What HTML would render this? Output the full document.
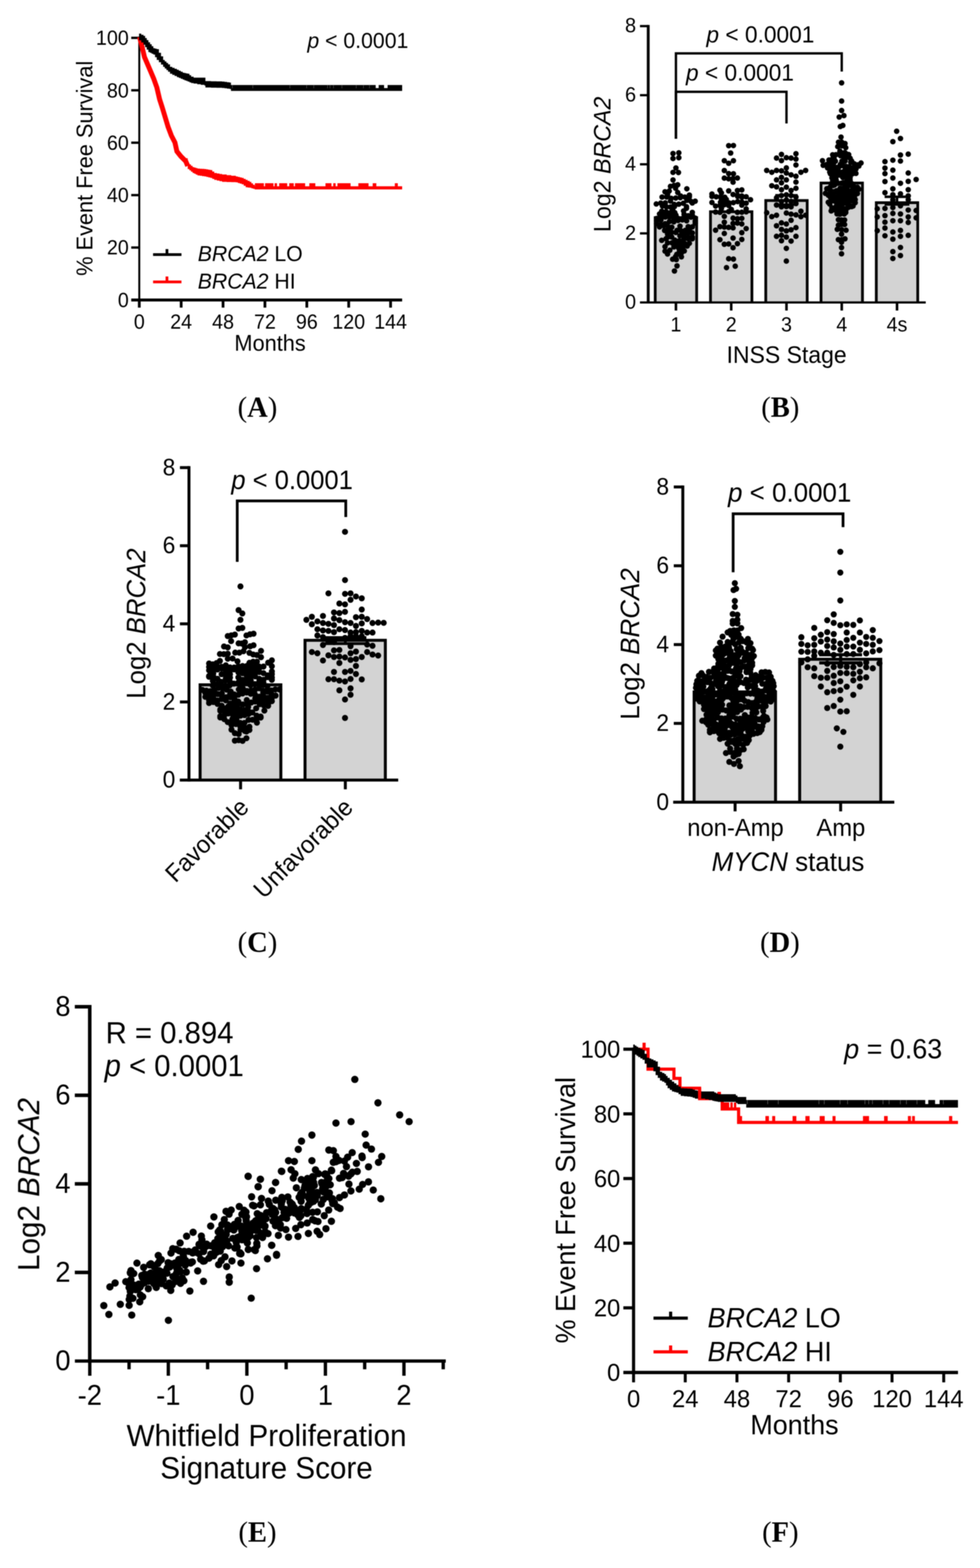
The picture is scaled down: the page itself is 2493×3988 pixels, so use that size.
<!DOCTYPE html>
<html lang="en"><head><meta charset="utf-8"><title>BRCA2 expression figure</title>
<style>
html,body{margin:0;padding:0;background:#fff}
svg{display:block}
.soft{filter:blur(0.8px)}
text{font-family:"Liberation Sans",sans-serif;fill:#000}
.cap{font-family:"Liberation Serif",serif}
</style></head><body>
<svg width="2493" height="3988" viewBox="0 0 2493 3988">
<rect width="2493" height="3988" fill="#fff"/>
<g class="soft">
<line x1="354.3" y1="93.3" x2="354.3" y2="766.65" stroke="#000" stroke-width="5"/><line x1="333.8" y1="96.3" x2="354.3" y2="96.3" stroke="#000" stroke-width="6"/><text transform="translate(327.5 114.2) scale(1 1.04)" font-size="50" text-anchor="end">100</text><line x1="333.8" y1="229.62" x2="354.3" y2="229.62" stroke="#000" stroke-width="6"/><text transform="translate(327.5 247.52) scale(1 1.04)" font-size="50" text-anchor="end">80</text><line x1="333.8" y1="362.94" x2="354.3" y2="362.94" stroke="#000" stroke-width="6"/><text transform="translate(327.5 380.84) scale(1 1.04)" font-size="50" text-anchor="end">60</text><line x1="333.8" y1="496.26" x2="354.3" y2="496.26" stroke="#000" stroke-width="6"/><text transform="translate(327.5 514.16) scale(1 1.04)" font-size="50" text-anchor="end">40</text><line x1="333.8" y1="629.58" x2="354.3" y2="629.58" stroke="#000" stroke-width="6"/><text transform="translate(327.5 647.48) scale(1 1.04)" font-size="50" text-anchor="end">20</text><text transform="translate(327.5 780.8) scale(1 1.04)" font-size="50" text-anchor="end">0</text><line x1="333.8" y1="762.9" x2="1023" y2="762.9" stroke="#000" stroke-width="7.5"/><line x1="354.3" y1="762.9" x2="354.3" y2="782.4" stroke="#000" stroke-width="7"/><text transform="translate(354.3 836) scale(1 1.04)" font-size="50" text-anchor="middle">0</text><line x1="460.85" y1="762.9" x2="460.85" y2="782.4" stroke="#000" stroke-width="7"/><text transform="translate(460.85 836) scale(1 1.04)" font-size="50" text-anchor="middle">24</text><line x1="567.4" y1="762.9" x2="567.4" y2="782.4" stroke="#000" stroke-width="7"/><text transform="translate(567.4 836) scale(1 1.04)" font-size="50" text-anchor="middle">48</text><line x1="673.95" y1="762.9" x2="673.95" y2="782.4" stroke="#000" stroke-width="7"/><text transform="translate(673.95 836) scale(1 1.04)" font-size="50" text-anchor="middle">72</text><line x1="780.5" y1="762.9" x2="780.5" y2="782.4" stroke="#000" stroke-width="7"/><text transform="translate(780.5 836) scale(1 1.04)" font-size="50" text-anchor="middle">96</text><line x1="887.05" y1="762.9" x2="887.05" y2="782.4" stroke="#000" stroke-width="7"/><text transform="translate(887.05 836) scale(1 1.04)" font-size="50" text-anchor="middle">120</text><line x1="993.6" y1="762.9" x2="993.6" y2="782.4" stroke="#000" stroke-width="7"/><text transform="translate(993.6 836) scale(1 1.04)" font-size="50" text-anchor="middle">144</text><text transform="translate(687 892) scale(1 1.04)" font-size="55.3" text-anchor="middle">Months</text><text transform="translate(235 428) rotate(-90) scale(1 1.04)" font-size="55.3" text-anchor="middle">% Event Free Survival</text><polyline points="355,94 361,117.5 367.5,145 375,162.5 382.5,180 391,200 399,222.5 406,252.5 412.5,272.5 420,297.5 427.5,322.5 436,345 445,362.5 450,385 460,397.5 472.5,410 477.5,422" fill="none" stroke="#f00" stroke-width="12.5" stroke-linejoin="miter"/><polygon points="470,402.5 477.5,402.5 477.5,415 481.67,415 481.67,418.33 485.83,418.33 485.83,421.67 490,421.67 490,425 494.17,425 494.17,426.25 498.33,426.25 498.33,427.5 502.5,427.5 502.5,428.75 508.33,428.75 508.33,429.17 514.17,429.17 514.17,429.58 520,429.58 520,430 525,430 525,430.83 530,430.83 530,431.67 535,431.67 535,432.5 540,432.5 540,436.25 545,436.25 545,440 551.67,440 551.67,441.25 558.33,441.25 558.33,442.5 565,442.5 565,443.75 576.67,443.75 576.67,445.42 588.33,445.42 588.33,447.08 600,447.08 600,448.75 605,448.75 605,450 610,450 610,451.25 615,451.25 615,452.5 620,452.5 620,455 625,455 625,457.5 630,457.5 630,460 635,460 635,462.5 639.33,462.5 639.33,466.25 643.67,466.25 643.67,470 648,470 648,473.75 773,473.75 773,473.75 898,473.75 898,473.75 1023,473.75 1023,473.75 1023,481.75 1023,481.75 898,481.75 898,481.75 773,481.75 773,481.75 648,481.75 648,480.33 643.67,480.33 643.67,478.92 639.33,478.92 639.33,477.5 635,477.5 635,476.88 630,476.88 630,476.25 625,476.25 625,472.5 620,472.5 620,468.75 615,468.75 615,467.08 610,467.08 610,465.42 605,465.42 605,463.75 600,463.75 600,463.33 588.33,463.33 588.33,462.92 576.67,462.92 576.67,462.5 565,462.5 565,460.83 558.33,460.83 558.33,459.17 551.67,459.17 551.67,457.5 545,457.5 545,455 540,455 540,452.5 535,452.5 535,451.25 530,451.25 530,450 525,450 525,448.75 520,448.75 520,447.92 514.17,447.92 514.17,447.08 508.33,447.08 508.33,446.25 502.5,446.25 502.5,444.17 498.33,444.17 498.33,442.08 494.17,442.08 494.17,440 490,440 490,436.67 485.83,436.67 485.83,433.33 481.67,433.33 481.67,430 477.5,430 477.5,417.5 470,417.5" fill="#f00"/><rect x="648.5" y="466" width="22.8" height="10" fill="#f00"/><rect x="674.3" y="466" width="21.3" height="10" fill="#f00"/><rect x="698.6" y="466" width="6.1" height="10" fill="#f00"/><rect x="710.2" y="466" width="20.4" height="10" fill="#f00"/><rect x="735.8" y="466" width="11.5" height="10" fill="#f00"/><rect x="750.4" y="466" width="25.8" height="10" fill="#f00"/><rect x="786.9" y="466" width="15.2" height="10" fill="#f00"/><rect x="828" y="466" width="15.2" height="10" fill="#f00"/><rect x="847.7" y="466" width="6.1" height="10" fill="#f00"/><rect x="858.4" y="466" width="33.4" height="10" fill="#f00"/><rect x="911.6" y="466" width="25.9" height="10" fill="#f00"/><rect x="948.1" y="466" width="9.2" height="10" fill="#f00"/><rect x="1004.4" y="466" width="7.6" height="10" fill="#f00"/><polygon points="353.75,85.5 359.38,85.5 359.38,88.38 365,88.38 365,91.25 369.17,91.25 369.17,96.67 373.33,96.67 373.33,102.08 377.5,102.08 377.5,107.5 381.67,107.5 381.67,112.5 385.83,112.5 385.83,117.5 390,117.5 390,122.5 394.38,122.5 394.38,123.75 398.75,123.75 398.75,125 404.17,125 404.17,134.17 409.58,134.17 409.58,143.33 415,143.33 415,152.5 419.17,152.5 419.17,156.25 423.33,156.25 423.33,160 427.5,160 427.5,163.75 432.5,163.75 432.5,170 438.33,170 438.33,172.5 444.17,172.5 444.17,175 450,175 450,177.5 455,177.5 455,180 460,180 460,182.5 465,182.5 465,185 469.17,185 469.17,185.83 473.33,185.83 473.33,186.67 477.5,186.67 477.5,187.5 481.88,187.5 481.88,191.25 486.25,191.25 486.25,195 492.5,195 492.5,197.5 501.67,197.5 501.67,197.5 510.83,197.5 510.83,197.5 520,197.5 520,197.5 522.5,197.5 522.5,206.25 536.67,206.25 536.67,206.67 550.83,206.67 550.83,207.08 565,207.08 565,207.5 571.25,207.5 571.25,208.33 577.5,208.33 577.5,209.17 583.75,209.17 583.75,210 587.5,210 587.5,216.25 732.67,216.25 732.67,216.25 877.83,216.25 877.83,216.25 1023,216.25 1023,216.25 1023,231.25 1023,231.25 877.83,231.25 877.83,231.25 732.67,231.25 732.67,231.25 587.5,231.25 587.5,226.25 583.75,226.25 583.75,225.42 577.5,225.42 577.5,224.58 571.25,224.58 571.25,223.75 565,223.75 565,223.33 550.83,223.33 550.83,222.92 536.67,222.92 536.67,222.5 522.5,222.5 522.5,217.5 520,217.5 520,215.83 510.83,215.83 510.83,214.17 501.67,214.17 501.67,212.5 492.5,212.5 492.5,211.25 486.25,211.25 486.25,209.38 481.88,209.38 481.88,207.5 477.5,207.5 477.5,205.83 473.33,205.83 473.33,204.17 469.17,204.17 469.17,202.5 465,202.5 465,200.42 460,200.42 460,198.33 455,198.33 455,196.25 450,196.25 450,193.33 444.17,193.33 444.17,190.42 438.33,190.42 438.33,187.5 432.5,187.5 432.5,182.5 427.5,182.5 427.5,178.33 423.33,178.33 423.33,174.17 419.17,174.17 419.17,170 415,170 415,164.17 409.58,164.17 409.58,158.33 404.17,158.33 404.17,152.5 398.75,152.5 398.75,145.62 394.38,145.62 394.38,138.75 390,138.75 390,136.67 385.83,136.67 385.83,134.58 381.67,134.58 381.67,132.5 377.5,132.5 377.5,126.25 373.33,126.25 373.33,120 369.17,120 369.17,113.75 365,113.75 365,108.12 359.38,108.12 359.38,102.5 353.75,102.5" fill="#000"/><rect x="955.7" y="215" width="7.6" height="9" fill="#fff"/><rect x="977" y="215" width="9" height="9" fill="#fff"/><rect x="590.6" y="216.5" width="1.5" height="8" fill="#555"/><rect x="642.4" y="216.5" width="1.5" height="8" fill="#555"/><rect x="736.7" y="216.5" width="1.5" height="8" fill="#555"/><rect x="779.3" y="216.5" width="1.5" height="8" fill="#555"/><rect x="797.5" y="216.5" width="1.5" height="8" fill="#555"/><rect x="832.5" y="216.5" width="1.5" height="8" fill="#555"/><rect x="838.6" y="216.5" width="1.5" height="8" fill="#555"/><rect x="847.7" y="216.5" width="1.5" height="8" fill="#555"/><rect x="869" y="216.5" width="1.5" height="8" fill="#555"/><rect x="905.5" y="216.5" width="1.5" height="8" fill="#555"/><rect x="923.8" y="216.5" width="1.5" height="8" fill="#555"/><rect x="939" y="216.5" width="1.5" height="8" fill="#555"/><text transform="translate(782 122) scale(1 1.04)" font-size="54" text-anchor="start"><tspan font-style="italic">p</tspan> &lt; 0.0001</text><line x1="389.4" y1="647.5" x2="461.6" y2="647.5" stroke="#000" stroke-width="7"/><line x1="424.7" y1="633.5" x2="424.7" y2="647.5" stroke="#000" stroke-width="7"/><line x1="389.4" y1="717.1" x2="461.6" y2="717.1" stroke="#f00" stroke-width="7"/><line x1="424.7" y1="703.2" x2="424.7" y2="717.1" stroke="#f00" stroke-width="7"/><text transform="translate(503 664) scale(1 1.04)" font-size="54" text-anchor="start"><tspan font-style="italic">BRCA2</tspan> LO</text><text transform="translate(503 734) scale(1 1.04)" font-size="54" text-anchor="start"><tspan font-style="italic">BRCA2</tspan> HI</text><text transform="translate(655 1060) scale(1 1.03)" font-size="72.6" text-anchor="middle" class="cap">(<tspan font-weight="bold">A</tspan>)</text><text transform="translate(1985 1060) scale(1 1.03)" font-size="72.6" text-anchor="middle" class="cap">(<tspan font-weight="bold">B</tspan>)</text><text transform="translate(655 2421) scale(1 1.03)" font-size="72.6" text-anchor="middle" class="cap">(<tspan font-weight="bold">C</tspan>)</text><text transform="translate(1984 2421) scale(1 1.03)" font-size="72.6" text-anchor="middle" class="cap">(<tspan font-weight="bold">D</tspan>)</text><text transform="translate(655 3920.5) scale(1 1.03)" font-size="72.6" text-anchor="middle" class="cap">(<tspan font-weight="bold">E</tspan>)</text><text transform="translate(1985 3920.5) scale(1 1.03)" font-size="72.6" text-anchor="middle" class="cap">(<tspan font-weight="bold">F</tspan>)</text><rect x="1666.8" y="553.5" width="105.4" height="215.8" fill="#d3d3d3"/><path d="M1666.8 769.3 V553.5 H1772.2 V769.3" fill="none" stroke="#000" stroke-width="7"/><rect x="1807.4" y="538.5" width="105.4" height="230.8" fill="#d3d3d3"/><path d="M1807.4 769.3 V538.5 H1912.8 V769.3" fill="none" stroke="#000" stroke-width="7"/><rect x="1948" y="510" width="105.4" height="259.3" fill="#d3d3d3"/><path d="M1948 769.3 V510 H2053.4 V769.3" fill="none" stroke="#000" stroke-width="7"/><rect x="2088.6" y="465.5" width="105.4" height="303.8" fill="#d3d3d3"/><path d="M2088.6 769.3 V465.5 H2194 V769.3" fill="none" stroke="#000" stroke-width="7"/><rect x="2229.2" y="515.5" width="105.4" height="253.8" fill="#d3d3d3"/><path d="M2229.2 769.3 V515.5 H2334.6 V769.3" fill="none" stroke="#000" stroke-width="7"/><line x1="1649" y1="63.5" x2="1649" y2="772.05" stroke="#000" stroke-width="7.2"/><line x1="1628" y1="66.4" x2="1649" y2="66.4" stroke="#000" stroke-width="5.8"/><text transform="translate(1618 82.48) scale(1 1.04)" font-size="50.5" text-anchor="end">8</text><line x1="1628" y1="242.12" x2="1649" y2="242.12" stroke="#000" stroke-width="5.8"/><text transform="translate(1618 258.2) scale(1 1.04)" font-size="50.5" text-anchor="end">6</text><line x1="1628" y1="417.85" x2="1649" y2="417.85" stroke="#000" stroke-width="5.8"/><text transform="translate(1618 433.93) scale(1 1.04)" font-size="50.5" text-anchor="end">4</text><line x1="1628" y1="593.57" x2="1649" y2="593.57" stroke="#000" stroke-width="5.8"/><text transform="translate(1618 609.65) scale(1 1.04)" font-size="50.5" text-anchor="end">2</text><text transform="translate(1618 785.38) scale(1 1.04)" font-size="50.5" text-anchor="end">0</text><line x1="1628" y1="769.3" x2="2355" y2="769.3" stroke="#000" stroke-width="5.5"/><line x1="1719.5" y1="769.3" x2="1719.5" y2="789.8" stroke="#000" stroke-width="6.5"/><text transform="translate(1719.5 843) scale(1 1.04)" font-size="50" text-anchor="middle">1</text><line x1="1860.1" y1="769.3" x2="1860.1" y2="789.8" stroke="#000" stroke-width="6.5"/><text transform="translate(1860.1 843) scale(1 1.04)" font-size="50" text-anchor="middle">2</text><line x1="2000.7" y1="769.3" x2="2000.7" y2="789.8" stroke="#000" stroke-width="6.5"/><text transform="translate(2000.7 843) scale(1 1.04)" font-size="50" text-anchor="middle">3</text><line x1="2141.3" y1="769.3" x2="2141.3" y2="789.8" stroke="#000" stroke-width="6.5"/><text transform="translate(2141.3 843) scale(1 1.04)" font-size="50" text-anchor="middle">4</text><line x1="2281.9" y1="769.3" x2="2281.9" y2="789.8" stroke="#000" stroke-width="6.5"/><text transform="translate(2281.9 843) scale(1 1.04)" font-size="50" text-anchor="middle">4s</text><text transform="translate(2001 922.6) scale(1 1.04)" font-size="58.5" text-anchor="middle">INSS Stage</text><text transform="translate(1552.5 418) rotate(-90) scale(1 1.04)" font-size="59" text-anchor="middle">Log2 <tspan font-style="italic">BRCA2</tspan></text><path d="M1719.5 353 V135.8 H2141.3 V182" fill="none" stroke="#000" stroke-width="6" stroke-linejoin="miter"/><path d="M1719.5 353 V233.4 H2000.7 V314" fill="none" stroke="#000" stroke-width="6" stroke-linejoin="miter"/><text transform="translate(1797 108.4) scale(1 1.04)" font-size="57.8" text-anchor="start"><tspan font-style="italic">p</tspan> &lt; 0.0001</text><text transform="translate(1745 205) scale(1 1.04)" font-size="57.8" text-anchor="start"><tspan font-style="italic">p</tspan> &lt; 0.0001</text><g fill="#000"><circle cx="1712.04" cy="390.43" r="7"/><circle cx="1726.85" cy="388.7" r="7"/><circle cx="1712.04" cy="403.16" r="7"/><circle cx="1726.85" cy="401.17" r="7"/><circle cx="1719.44" cy="427.22" r="7"/><circle cx="1712.04" cy="438.38" r="7"/><circle cx="1725.93" cy="438.79" r="7"/><circle cx="1712.04" cy="457.78" r="7"/><circle cx="1705.56" cy="473.92" r="7"/><circle cx="1724.07" cy="469.95" r="7"/><circle cx="1718.52" cy="478.78" r="7"/><circle cx="1747.22" cy="480.17" r="7"/><circle cx="1691.67" cy="487.7" r="7"/><circle cx="1724.07" cy="489.6" r="7"/><circle cx="1698.15" cy="495.11" r="7"/><circle cx="1753.7" cy="496.16" r="7"/><circle cx="1684.26" cy="501.28" r="7"/><circle cx="1753.7" cy="500.7" r="7"/><circle cx="1705.56" cy="511.38" r="7"/><circle cx="1768.52" cy="511.68" r="7"/><circle cx="1669.44" cy="518.85" r="7"/><circle cx="1761.11" cy="516.3" r="7"/><circle cx="1685.19" cy="524.02" r="7"/><circle cx="1746.3" cy="525.81" r="7"/><circle cx="1711.11" cy="532.76" r="7"/><circle cx="1746.3" cy="529.75" r="7"/><circle cx="1683.33" cy="537.14" r="7"/><circle cx="1761.11" cy="540.17" r="7"/><circle cx="1677.78" cy="544.3" r="7"/><circle cx="1761.11" cy="546.97" r="7"/><circle cx="1670.37" cy="555.74" r="7"/><circle cx="1768.52" cy="554.71" r="7"/><circle cx="1670.37" cy="561.58" r="7"/><circle cx="1768.52" cy="562.36" r="7"/><circle cx="1670.37" cy="568.66" r="7"/><circle cx="1768.52" cy="567.5" r="7"/><circle cx="1677.78" cy="577.15" r="7"/><circle cx="1761.11" cy="577.08" r="7"/><circle cx="1690.74" cy="586.32" r="7"/><circle cx="1753.7" cy="583.18" r="7"/><circle cx="1698.15" cy="595.01" r="7"/><circle cx="1761.11" cy="592.34" r="7"/><circle cx="1698.15" cy="603.47" r="7"/><circle cx="1761.11" cy="603.27" r="7"/><circle cx="1683.33" cy="611.24" r="7"/><circle cx="1761.11" cy="607.41" r="7"/><circle cx="1698.15" cy="617.78" r="7"/><circle cx="1753.7" cy="618.85" r="7"/><circle cx="1691.67" cy="627.33" r="7"/><circle cx="1748.15" cy="625.81" r="7"/><circle cx="1691.67" cy="638.85" r="7"/><circle cx="1740.74" cy="638.36" r="7"/><circle cx="1698.15" cy="645.94" r="7"/><circle cx="1733.33" cy="643.24" r="7"/><circle cx="1718.52" cy="652.63" r="7"/><circle cx="1733.33" cy="653.22" r="7"/><circle cx="1711.11" cy="659.36" r="7"/><circle cx="1720.37" cy="660.35" r="7"/><circle cx="1722.22" cy="676.3" r="7"/><circle cx="1715.74" cy="689.26" r="7"/><circle cx="1721.6" cy="646.96" r="7"/><circle cx="1708.64" cy="602.74" r="7"/><circle cx="1724.9" cy="555.61" r="7"/><circle cx="1703.94" cy="636.56" r="7"/><circle cx="1713.99" cy="564.18" r="7"/><circle cx="1735.8" cy="555.93" r="7"/><circle cx="1692.18" cy="568.98" r="7"/><circle cx="1726.74" cy="519.21" r="7"/><circle cx="1722.22" cy="586.03" r="7"/><circle cx="1694.44" cy="607.25" r="7"/><circle cx="1715.28" cy="519.87" r="7"/><circle cx="1738.19" cy="517.12" r="7"/><circle cx="1719.44" cy="547.3" r="7"/><circle cx="1680.9" cy="516.53" r="7"/><circle cx="1681.28" cy="555.47" r="7"/><circle cx="1738.89" cy="536.44" r="7"/><circle cx="1742.13" cy="501.13" r="7"/><circle cx="1688.19" cy="574.17" r="7"/><circle cx="1732.72" cy="587.2" r="7"/><circle cx="1716.67" cy="610.71" r="7"/><circle cx="1695.37" cy="526.23" r="7"/><circle cx="1695.83" cy="501.01" r="7"/><circle cx="1758.02" cy="512.33" r="7"/><circle cx="1703.09" cy="563.31" r="7"/><circle cx="1701.23" cy="583.42" r="7"/><circle cx="1730.56" cy="502.75" r="7"/><circle cx="1718.98" cy="503.81" r="7"/><circle cx="1705.56" cy="540.71" r="7"/><circle cx="1709.26" cy="617.63" r="7"/><circle cx="1692.18" cy="551.96" r="7"/><circle cx="1707.41" cy="504.38" r="7"/><circle cx="1735.8" cy="559.32" r="7"/><circle cx="1725.56" cy="629.64" r="7"/><circle cx="1731.48" cy="619.75" r="7"/><circle cx="1713.99" cy="555.27" r="7"/><circle cx="1740.28" cy="545.15" r="7"/><circle cx="1720.37" cy="619" r="7"/><circle cx="1709.03" cy="548.38" r="7"/><circle cx="1709.03" cy="577.9" r="7"/><circle cx="1740.12" cy="594.43" r="7"/><circle cx="1736.85" cy="629.24" r="7"/><circle cx="1698.61" cy="575.42" r="7"/><circle cx="1746.71" cy="561.61" r="7"/><circle cx="1692.36" cy="516.02" r="7"/><circle cx="1750" cy="607.16" r="7"/><circle cx="1681.28" cy="559.73" r="7"/><circle cx="1705.56" cy="526.59" r="7"/><circle cx="1757.61" cy="552.18" r="7"/><circle cx="1694.44" cy="538.51" r="7"/><circle cx="1688.19" cy="546.67" r="7"/><circle cx="1681.28" cy="570.84" r="7"/><circle cx="1719.14" cy="591.19" r="7"/><circle cx="1747.53" cy="509.62" r="7"/><circle cx="1703.09" cy="551.16" r="7"/><circle cx="1702.47" cy="485.83" r="7"/><circle cx="1729.86" cy="575.24" r="7"/><circle cx="1727.78" cy="612.54" r="7"/><circle cx="1714.26" cy="627.94" r="7"/><circle cx="1698.61" cy="549.29" r="7"/><circle cx="1742.59" cy="619.92" r="7"/><circle cx="1714.81" cy="471.39" r="7"/><circle cx="1724.9" cy="560.83" r="7"/><circle cx="1743.21" cy="585.9" r="7"/><circle cx="1750.69" cy="576.38" r="7"/><circle cx="1716.67" cy="540.86" r="7"/><circle cx="1750.62" cy="593.35" r="7"/><circle cx="1729.63" cy="599.72" r="7"/><circle cx="1708.64" cy="590.82" r="7"/><circle cx="1740.12" cy="602.6" r="7"/><circle cx="1738.89" cy="609.85" r="7"/><circle cx="1715.74" cy="525.2" r="7"/><circle cx="1750.69" cy="548.64" r="7"/><circle cx="1731.48" cy="498.54" r="7"/><circle cx="1750.62" cy="603.8" r="7"/><circle cx="1728.47" cy="638" r="7"/></g><g fill="#000"><circle cx="1853.7" cy="370.52" r="7"/><circle cx="1865.74" cy="370.13" r="7"/><circle cx="1858.7" cy="389.26" r="7"/><circle cx="1842.59" cy="408.7" r="7"/><circle cx="1853.7" cy="415.19" r="7"/><circle cx="1865.74" cy="408.7" r="7"/><circle cx="1842.59" cy="433.7" r="7"/><circle cx="1853.7" cy="441.48" r="7"/><circle cx="1865.74" cy="442.06" r="7"/><circle cx="1842.59" cy="453.01" r="7"/><circle cx="1875.93" cy="452.86" r="7"/><circle cx="1864.81" cy="463.33" r="7"/><circle cx="1831.48" cy="483.7" r="7"/><circle cx="1853.7" cy="485.56" r="7"/><circle cx="1875.93" cy="484.53" r="7"/><circle cx="1887.04" cy="483.07" r="7"/><circle cx="1811.11" cy="493.43" r="7"/><circle cx="1835.19" cy="490.64" r="7"/><circle cx="1864.81" cy="494.63" r="7"/><circle cx="1887.04" cy="498.38" r="7"/><circle cx="1811.11" cy="499.59" r="7"/><circle cx="1898.15" cy="500.53" r="7"/><circle cx="1835.19" cy="506.05" r="7"/><circle cx="1909.26" cy="507.96" r="7"/><circle cx="1811.11" cy="514.94" r="7"/><circle cx="1898.15" cy="516.72" r="7"/><circle cx="1820.37" cy="524.13" r="7"/><circle cx="1887.04" cy="521.79" r="7"/><circle cx="1835.19" cy="530.3" r="7"/><circle cx="1898.15" cy="531.36" r="7"/><circle cx="1820.37" cy="539.27" r="7"/><circle cx="1898.15" cy="538.72" r="7"/><circle cx="1842.59" cy="550.37" r="7"/><circle cx="1864.81" cy="554.87" r="7"/><circle cx="1887.04" cy="555.39" r="7"/><circle cx="1842.59" cy="565.19" r="7"/><circle cx="1864.81" cy="568.32" r="7"/><circle cx="1887.04" cy="569.67" r="7"/><circle cx="1831.48" cy="576.52" r="7"/><circle cx="1853.7" cy="578.21" r="7"/><circle cx="1864.81" cy="579.61" r="7"/><circle cx="1898.15" cy="581.39" r="7"/><circle cx="1820.37" cy="585.56" r="7"/><circle cx="1842.59" cy="593.86" r="7"/><circle cx="1887.04" cy="591.72" r="7"/><circle cx="1831.48" cy="609.66" r="7"/><circle cx="1887.04" cy="609.06" r="7"/><circle cx="1842.59" cy="621.31" r="7"/><circle cx="1875.93" cy="619.77" r="7"/><circle cx="1864.81" cy="630" r="7"/><circle cx="1853.7" cy="658.07" r="7"/><circle cx="1865.74" cy="658.94" r="7"/><circle cx="1848.15" cy="680.64" r="7"/><circle cx="1870.37" cy="676.93" r="7"/><circle cx="1887.27" cy="513.87" r="7"/><circle cx="1853.7" cy="454.74" r="7"/><circle cx="1875.93" cy="567.39" r="7"/><circle cx="1847.53" cy="507.18" r="7"/><circle cx="1854.63" cy="516.08" r="7"/><circle cx="1853.7" cy="620.62" r="7"/><circle cx="1831.48" cy="522.66" r="7"/><circle cx="1832.87" cy="500.73" r="7"/><circle cx="1831.48" cy="540.12" r="7"/><circle cx="1876.39" cy="499.47" r="7"/><circle cx="1832.87" cy="514.34" r="7"/><circle cx="1842.59" cy="577.44" r="7"/><circle cx="1875.93" cy="556.37" r="7"/><circle cx="1887.04" cy="539.87" r="7"/><circle cx="1853.7" cy="522.71" r="7"/><circle cx="1865.51" cy="515.41" r="7"/><circle cx="1853.7" cy="538.01" r="7"/><circle cx="1875.93" cy="496.35" r="7"/><circle cx="1843.75" cy="515.59" r="7"/><circle cx="1876.39" cy="512.77" r="7"/><circle cx="1864.81" cy="453.9" r="7"/><circle cx="1887.27" cy="501.67" r="7"/><circle cx="1821.99" cy="500.56" r="7"/><circle cx="1864.81" cy="605.52" r="7"/><circle cx="1875.93" cy="540.05" r="7"/><circle cx="1860.37" cy="532.77" r="7"/><circle cx="1842.59" cy="520.87" r="7"/><circle cx="1843.75" cy="501.78" r="7"/></g><g fill="#000"><circle cx="1987.96" cy="392.78" r="7"/><circle cx="2024.81" cy="390.93" r="7"/><circle cx="1975.37" cy="402.04" r="7"/><circle cx="1987.96" cy="408.52" r="7"/><circle cx="2000.37" cy="401.11" r="7"/><circle cx="2012.41" cy="402.04" r="7"/><circle cx="2024.81" cy="404.81" r="7"/><circle cx="2024.81" cy="419.63" r="7"/><circle cx="2000.37" cy="427.04" r="7"/><circle cx="1950.37" cy="433.52" r="7"/><circle cx="1963.33" cy="438.15" r="7"/><circle cx="1975.37" cy="433.52" r="7"/><circle cx="1987.96" cy="434.44" r="7"/><circle cx="2000.37" cy="440" r="7"/><circle cx="2012.41" cy="444.63" r="7"/><circle cx="2024.81" cy="448.33" r="7"/><circle cx="2037.41" cy="438.15" r="7"/><circle cx="2049.44" cy="433.52" r="7"/><circle cx="1987.96" cy="451.11" r="7"/><circle cx="1975.37" cy="457.59" r="7"/><circle cx="2000.37" cy="457.59" r="7"/><circle cx="2024.81" cy="463.15" r="7"/><circle cx="1987.96" cy="465" r="7"/><circle cx="1963.33" cy="472.41" r="7"/><circle cx="1975.37" cy="475.19" r="7"/><circle cx="1987.96" cy="482.59" r="7"/><circle cx="2000.37" cy="476.11" r="7"/><circle cx="2012.41" cy="484.44" r="7"/><circle cx="2024.81" cy="478.89" r="7"/><circle cx="1975.37" cy="502.96" r="7"/><circle cx="1987.96" cy="497.41" r="7"/><circle cx="2000.37" cy="495.56" r="7"/><circle cx="2012.41" cy="497.41" r="7"/><circle cx="2024.81" cy="501.11" r="7"/><circle cx="1975.37" cy="521.48" r="7"/><circle cx="1987.96" cy="526.11" r="7"/><circle cx="2000.37" cy="525.19" r="7"/><circle cx="2012.41" cy="526.11" r="7"/><circle cx="2024.81" cy="517.78" r="7"/><circle cx="1987.96" cy="512.22" r="7"/><circle cx="2012.41" cy="512.22" r="7"/><circle cx="2000.37" cy="508.52" r="7"/><circle cx="1950.37" cy="540.93" r="7"/><circle cx="1963.33" cy="551.11" r="7"/><circle cx="1975.37" cy="547.41" r="7"/><circle cx="2000.37" cy="541.85" r="7"/><circle cx="2012.41" cy="544.63" r="7"/><circle cx="2024.81" cy="546.48" r="7"/><circle cx="2037.41" cy="537.22" r="7"/><circle cx="2037.41" cy="551.11" r="7"/><circle cx="2049.44" cy="547.41" r="7"/><circle cx="2012.41" cy="560.37" r="7"/><circle cx="1987.96" cy="566.85" r="7"/><circle cx="2000.37" cy="569.63" r="7"/><circle cx="1975.37" cy="574.26" r="7"/><circle cx="2024.81" cy="578.89" r="7"/><circle cx="1987.96" cy="583.52" r="7"/><circle cx="2012.41" cy="584.44" r="7"/><circle cx="2000.37" cy="587.22" r="7"/><circle cx="1975.37" cy="601.11" r="7"/><circle cx="1987.96" cy="598.33" r="7"/><circle cx="2000.37" cy="602.96" r="7"/><circle cx="2024.81" cy="601.11" r="7"/><circle cx="1987.96" cy="612.22" r="7"/><circle cx="2012.41" cy="613.15" r="7"/><circle cx="2000.37" cy="631.67" r="7"/><circle cx="2000.37" cy="664.07" r="7"/></g><line x1="2000.7" y1="496.5" x2="2000.7" y2="520.5" stroke="#000" stroke-width="6"/><line x1="1972.2" y1="496.5" x2="2029.2" y2="496.5" stroke="#000" stroke-width="6"/><line x1="1972.2" y1="520.5" x2="2029.2" y2="520.5" stroke="#000" stroke-width="6"/><g fill="#000"><circle cx="2139.44" cy="348.7" r="7"/><circle cx="2132.96" cy="361.82" r="7"/><circle cx="2149.63" cy="364.93" r="7"/><circle cx="2131.11" cy="372.9" r="7"/><circle cx="2151.48" cy="375.62" r="7"/><circle cx="2136.67" cy="384.53" r="7"/><circle cx="2147.78" cy="388.44" r="7"/><circle cx="2118.15" cy="393.73" r="7"/><circle cx="2158.89" cy="393.09" r="7"/><circle cx="2121.85" cy="403.75" r="7"/><circle cx="2162.59" cy="402.4" r="7"/><circle cx="2092.22" cy="408.68" r="7"/><circle cx="2166.3" cy="409.42" r="7"/><circle cx="2094.07" cy="420.46" r="7"/><circle cx="2190.37" cy="414.61" r="7"/><circle cx="2103.33" cy="420.81" r="7"/><circle cx="2184.81" cy="422.2" r="7"/><circle cx="2105.19" cy="427.11" r="7"/><circle cx="2177.41" cy="429.9" r="7"/><circle cx="2110.74" cy="437.74" r="7"/><circle cx="2177.41" cy="441.04" r="7"/><circle cx="2112.59" cy="442.14" r="7"/><circle cx="2162.59" cy="446.76" r="7"/><circle cx="2116.3" cy="452.36" r="7"/><circle cx="2162.59" cy="451.28" r="7"/><circle cx="2118.15" cy="460.41" r="7"/><circle cx="2162.59" cy="457.9" r="7"/><circle cx="2114.44" cy="471.02" r="7"/><circle cx="2166.3" cy="466.61" r="7"/><circle cx="2110.74" cy="477.01" r="7"/><circle cx="2181.11" cy="476.16" r="7"/><circle cx="2103.33" cy="480.07" r="7"/><circle cx="2184.81" cy="481.28" r="7"/><circle cx="2099.63" cy="491.87" r="7"/><circle cx="2181.11" cy="492.26" r="7"/><circle cx="2107.04" cy="496.44" r="7"/><circle cx="2173.7" cy="499.76" r="7"/><circle cx="2112.59" cy="502.03" r="7"/><circle cx="2175.56" cy="507.79" r="7"/><circle cx="2107.04" cy="514.44" r="7"/><circle cx="2175.56" cy="515.65" r="7"/><circle cx="2110.74" cy="518.93" r="7"/><circle cx="2170" cy="524.03" r="7"/><circle cx="2116.3" cy="528.53" r="7"/><circle cx="2166.3" cy="525.62" r="7"/><circle cx="2114.44" cy="536.51" r="7"/><circle cx="2151.48" cy="535.43" r="7"/><circle cx="2129.26" cy="544.1" r="7"/><circle cx="2151.48" cy="540.51" r="7"/><circle cx="2164.81" cy="489.13" r="7"/><circle cx="2137.85" cy="418.24" r="7"/><circle cx="2159.35" cy="431.12" r="7"/><circle cx="2149.01" cy="467.36" r="7"/><circle cx="2123.7" cy="534.12" r="7"/><circle cx="2136.67" cy="544.68" r="7"/><circle cx="2150.74" cy="389.37" r="7"/><circle cx="2126.3" cy="393.47" r="7"/><circle cx="2144.07" cy="481.05" r="7"/><circle cx="2123.09" cy="470.31" r="7"/><circle cx="2111.48" cy="421.28" r="7"/><circle cx="2149.86" cy="513.59" r="7"/><circle cx="2165.37" cy="500.21" r="7"/><circle cx="2144.07" cy="421.2" r="7"/><circle cx="2172.96" cy="491.97" r="7"/><circle cx="2119.63" cy="487.46" r="7"/><circle cx="2146.3" cy="399.35" r="7"/><circle cx="2140.37" cy="495.6" r="7"/><circle cx="2124.07" cy="488.39" r="7"/><circle cx="2119.63" cy="426.34" r="7"/><circle cx="2148.52" cy="490.35" r="7"/><circle cx="2115.37" cy="498.44" r="7"/><circle cx="2154.26" cy="446.05" r="7"/><circle cx="2152.22" cy="423.3" r="7"/><circle cx="2138.15" cy="395.93" r="7"/><circle cx="2121.59" cy="505.47" r="7"/><circle cx="2111.48" cy="483.57" r="7"/><circle cx="2132.96" cy="533.21" r="7"/><circle cx="2134.44" cy="391.98" r="7"/><circle cx="2140.37" cy="465.89" r="7"/><circle cx="2141.6" cy="409.89" r="7"/><circle cx="2137.13" cy="479" r="7"/><circle cx="2160.74" cy="436.9" r="7"/><circle cx="2127.04" cy="457.86" r="7"/><circle cx="2125.56" cy="454.41" r="7"/><circle cx="2142.22" cy="536.34" r="7"/><circle cx="2141.3" cy="370.99" r="7"/><circle cx="2115.6" cy="510.99" r="7"/><circle cx="2153.7" cy="460.62" r="7"/><circle cx="2169.07" cy="441.91" r="7"/><circle cx="2111.58" cy="416.47" r="7"/><circle cx="2160.37" cy="486.29" r="7"/><circle cx="2115.93" cy="491.29" r="7"/><circle cx="2157.57" cy="502.9" r="7"/><circle cx="2144.07" cy="539.98" r="7"/><circle cx="2135.74" cy="439.69" r="7"/><circle cx="2145.93" cy="444.06" r="7"/><circle cx="2168.52" cy="482.89" r="7"/><circle cx="2166.56" cy="503.15" r="7"/><circle cx="2124.17" cy="512.03" r="7"/><circle cx="2135.93" cy="422.89" r="7"/><circle cx="2148.7" cy="496.33" r="7"/><circle cx="2152.22" cy="484.2" r="7"/><circle cx="2181.62" cy="419.18" r="7"/><circle cx="2153.07" cy="517.25" r="7"/><circle cx="2144.81" cy="465.01" r="7"/><circle cx="2132.96" cy="526.74" r="7"/><circle cx="2107.78" cy="494.32" r="7"/><circle cx="2132.73" cy="513.24" r="7"/><circle cx="2160.37" cy="423.71" r="7"/><circle cx="2132.27" cy="431.97" r="7"/><circle cx="2144.07" cy="451.35" r="7"/><circle cx="2176.67" cy="421.18" r="7"/><circle cx="2150.32" cy="427.57" r="7"/><circle cx="2125.14" cy="410.11" r="7"/><circle cx="2154.72" cy="476.27" r="7"/><circle cx="2139.58" cy="507.83" r="7"/><circle cx="2130.58" cy="507.31" r="7"/><circle cx="2108.68" cy="407.1" r="7"/><circle cx="2149.63" cy="530.88" r="7"/><circle cx="2164.11" cy="412.63" r="7"/><circle cx="2161.53" cy="522.95" r="7"/><circle cx="2135.93" cy="482.66" r="7"/><circle cx="2158.43" cy="511.51" r="7"/><circle cx="2120.34" cy="415.65" r="7"/><circle cx="2102.83" cy="418.38" r="7"/><circle cx="2157.96" cy="527.55" r="7"/><circle cx="2123.7" cy="500.81" r="7"/><circle cx="2157.65" cy="472.29" r="7"/><circle cx="2145.93" cy="478.33" r="7"/><circle cx="2157.04" cy="497.32" r="7"/><circle cx="2127.67" cy="524.27" r="7"/><circle cx="2149.84" cy="409.6" r="7"/><circle cx="2127.41" cy="440.08" r="7"/><circle cx="2140.37" cy="491.99" r="7"/><circle cx="2163.52" cy="471.49" r="7"/><circle cx="2168.38" cy="435.34" r="7"/><circle cx="2131.73" cy="465.94" r="7"/><circle cx="2119.54" cy="471.7" r="7"/><circle cx="2114.21" cy="433.05" r="7"/><circle cx="2116.91" cy="405.25" r="7"/><circle cx="2123.24" cy="433.07" r="7"/><circle cx="2141.3" cy="515.59" r="7"/><circle cx="2132.04" cy="500.2" r="7"/><circle cx="2136.14" cy="520.23" r="7"/><circle cx="2148.57" cy="502.95" r="7"/><circle cx="2144.6" cy="517.75" r="7"/><circle cx="2132.22" cy="489.96" r="7"/><circle cx="2141.3" cy="527.53" r="7"/><circle cx="2129.26" cy="446.76" r="7"/><circle cx="2168.52" cy="427.77" r="7"/><circle cx="2120.93" cy="448.72" r="7"/><circle cx="2166.99" cy="510.67" r="7"/><circle cx="2141.3" cy="361.58" r="7"/><circle cx="2144.07" cy="437.37" r="7"/><circle cx="2156.67" cy="488.06" r="7"/><circle cx="2127.78" cy="426.01" r="7"/><circle cx="2172.86" cy="416.52" r="7"/><circle cx="2172.31" cy="474.4" r="7"/><circle cx="2154.44" cy="399.74" r="7"/><circle cx="2127.78" cy="484.92" r="7"/><circle cx="2176.67" cy="479.72" r="7"/><circle cx="2152.41" cy="437.2" r="7"/><circle cx="2119.07" cy="439.7" r="7"/><circle cx="2153.33" cy="449.15" r="7"/><circle cx="2137.59" cy="445.6" r="7"/></g><g fill="#000"><circle cx="2130" cy="543.38" r="7"/><circle cx="2147.59" cy="544.19" r="7"/><circle cx="2132.78" cy="558.85" r="7"/><circle cx="2148.52" cy="559.55" r="7"/><circle cx="2132.78" cy="572.74" r="7"/><circle cx="2148.52" cy="571.11" r="7"/><circle cx="2130" cy="583.28" r="7"/><circle cx="2152.22" cy="585.59" r="7"/><circle cx="2140.74" cy="595.56" r="7"/><circle cx="2132.78" cy="609.56" r="7"/><circle cx="2149.44" cy="607.43" r="7"/><circle cx="2140.74" cy="615.93" r="7"/><circle cx="2140.74" cy="629.81" r="7"/><circle cx="2140.74" cy="645.56" r="7"/><circle cx="2138.8" cy="543.67" r="7"/><circle cx="2140.65" cy="559.42" r="7"/><circle cx="2140.65" cy="570.55" r="7"/><circle cx="2141.11" cy="584.13" r="7"/><circle cx="2141.11" cy="609.72" r="7"/></g><g fill="#000"><circle cx="2140.93" cy="210.74" r="7"/><circle cx="2140.93" cy="257.04" r="7"/><circle cx="2140.93" cy="281.11" r="7"/><circle cx="2134.81" cy="297.78" r="7"/><circle cx="2146.85" cy="294.07" r="7"/><circle cx="2137.59" cy="321.85" r="7"/><circle cx="2144.07" cy="319.07" r="7"/></g><g fill="#000"><circle cx="2280.98" cy="333.72" r="7"/><circle cx="2290.65" cy="352.32" r="7"/><circle cx="2271.31" cy="360.21" r="7"/><circle cx="2310.45" cy="392.05" r="7"/><circle cx="2290.65" cy="394.29" r="7"/><circle cx="2271.31" cy="407.38" r="7"/><circle cx="2290.65" cy="409.61" r="7"/><circle cx="2251.22" cy="411.1" r="7"/><circle cx="2251.22" cy="427.47" r="7"/><circle cx="2271.31" cy="432.68" r="7"/><circle cx="2251.22" cy="441.61" r="7"/><circle cx="2310.45" cy="440.12" r="7"/><circle cx="2271.31" cy="452.77" r="7"/><circle cx="2330.54" cy="456.49" r="7"/><circle cx="2251.22" cy="461.7" r="7"/><circle cx="2310.45" cy="461.25" r="7"/><circle cx="2290.65" cy="466.16" r="7"/><circle cx="2271.31" cy="480.3" r="7"/><circle cx="2310.45" cy="482.53" r="7"/><circle cx="2251.22" cy="489.97" r="7"/><circle cx="2290.65" cy="492.95" r="7"/><circle cx="2271.31" cy="495.18" r="7"/><circle cx="2310.45" cy="498.15" r="7"/><circle cx="2271.31" cy="508.57" r="7"/><circle cx="2310.45" cy="507.83" r="7"/><circle cx="2290.65" cy="523.45" r="7"/><circle cx="2271.31" cy="527.92" r="7"/><circle cx="2231.58" cy="530.89" r="7"/><circle cx="2251.22" cy="530.15" r="7"/><circle cx="2310.45" cy="534.17" r="7"/><circle cx="2330.54" cy="535.36" r="7"/><circle cx="2271.31" cy="542.8" r="7"/><circle cx="2290.65" cy="544.29" r="7"/><circle cx="2251.22" cy="548.45" r="7"/><circle cx="2231.58" cy="551.73" r="7"/><circle cx="2310.45" cy="551.73" r="7"/><circle cx="2330.54" cy="553.96" r="7"/><circle cx="2271.31" cy="561.4" r="7"/><circle cx="2290.65" cy="561.4" r="7"/><circle cx="2251.22" cy="565.12" r="7"/><circle cx="2310.45" cy="565.86" r="7"/><circle cx="2251.22" cy="580" r="7"/><circle cx="2290.65" cy="585.95" r="7"/><circle cx="2231.58" cy="586.7" r="7"/><circle cx="2271.31" cy="590.12" r="7"/><circle cx="2251.22" cy="599.64" r="7"/><circle cx="2310.45" cy="598.6" r="7"/><circle cx="2290.65" cy="601.13" r="7"/><circle cx="2271.31" cy="608.27" r="7"/><circle cx="2290.65" cy="629.4" r="7"/><circle cx="2271.31" cy="639.97" r="7"/><circle cx="2290.65" cy="649.94" r="7"/><circle cx="2271.31" cy="657.38" r="7"/></g><line x1="2281.9" y1="500.4" x2="2281.9" y2="520" stroke="#000" stroke-width="6.5"/><line x1="2250.4" y1="500.4" x2="2313.4" y2="500.4" stroke="#000" stroke-width="6.5"/><line x1="2250.4" y1="520" x2="2313.4" y2="520" stroke="#000" stroke-width="6.5"/><rect x="509.05" y="1741.75" width="205.4" height="242.25" fill="#d3d3d3"/><path d="M509.05 1984 V1741.75 H714.45 V1984" fill="none" stroke="#000" stroke-width="7.5"/><rect x="775.95" y="1628.55" width="204.3" height="355.45" fill="#d3d3d3"/><path d="M775.95 1984 V1628.55 H980.25 V1984" fill="none" stroke="#000" stroke-width="7.5"/><line x1="480.7" y1="1185.55" x2="480.7" y2="1987.75" stroke="#000" stroke-width="7.5"/><line x1="457.7" y1="1189.3" x2="480.7" y2="1189.3" stroke="#000" stroke-width="7.5"/><text transform="translate(446 1208.56) scale(1 1.04)" font-size="58" text-anchor="end">8</text><line x1="457.7" y1="1387.97" x2="480.7" y2="1387.97" stroke="#000" stroke-width="7.5"/><text transform="translate(446 1407.24) scale(1 1.04)" font-size="58" text-anchor="end">6</text><line x1="457.7" y1="1586.65" x2="480.7" y2="1586.65" stroke="#000" stroke-width="7.5"/><text transform="translate(446 1605.91) scale(1 1.04)" font-size="58" text-anchor="end">4</text><line x1="457.7" y1="1785.33" x2="480.7" y2="1785.33" stroke="#000" stroke-width="7.5"/><text transform="translate(446 1804.59) scale(1 1.04)" font-size="58" text-anchor="end">2</text><text transform="translate(446 2003.26) scale(1 1.04)" font-size="58" text-anchor="end">0</text><line x1="457.4" y1="1984" x2="1013" y2="1984" stroke="#000" stroke-width="7.5"/><line x1="612" y1="1984" x2="612" y2="2007.5" stroke="#000" stroke-width="7.5"/><line x1="878.5" y1="1984" x2="878.5" y2="2007.5" stroke="#000" stroke-width="7.5"/><text transform="translate(636.5 2057) rotate(-45) scale(1 1.04)" font-size="60.5" text-anchor="end">Favorable</text><text transform="translate(901.5 2057.5) rotate(-45) scale(1 1.04)" font-size="60.5" text-anchor="end">Unfavorable</text><text transform="translate(370 1586) rotate(-90) scale(1 1.04)" font-size="65.5" text-anchor="middle">Log2 <tspan font-style="italic">BRCA2</tspan></text><path d="M603.5 1429 V1274 H879.6 V1315" fill="none" stroke="#000" stroke-width="7" stroke-linejoin="miter"/><text transform="translate(588.6 1243.5) scale(1 1.04)" font-size="65" text-anchor="start"><tspan font-style="italic">p</tspan> &lt; 0.0001</text><g fill="#000"><circle cx="611.7" cy="1491.46" r="7.7"/><circle cx="606.95" cy="1551.74" r="7.7"/><circle cx="616.46" cy="1560.29" r="7.7"/><circle cx="611.7" cy="1576.46" r="7.7"/><circle cx="606.95" cy="1598.56" r="7.7"/><circle cx="616.46" cy="1596.97" r="7.7"/><circle cx="626.92" cy="1616.13" r="7.7"/><circle cx="644.98" cy="1611.8" r="7.7"/><circle cx="579.38" cy="1617.77" r="7.7"/><circle cx="597.44" cy="1613.96" r="7.7"/><circle cx="587.93" cy="1630.65" r="7.7"/><circle cx="606.95" cy="1636.19" r="7.7"/><circle cx="623.11" cy="1633.44" r="7.7"/><circle cx="569.87" cy="1644.3" r="7.7"/><circle cx="579.38" cy="1646.44" r="7.7"/><circle cx="644.98" cy="1641.11" r="7.7"/><circle cx="623.11" cy="1645.88" r="7.7"/><circle cx="636.42" cy="1643.75" r="7.7"/><circle cx="664" cy="1655.37" r="7.7"/><circle cx="559.41" cy="1663.4" r="7.7"/><circle cx="579.38" cy="1662.73" r="7.7"/><circle cx="598.39" cy="1659.82" r="7.7"/><circle cx="619.31" cy="1656.39" r="7.7"/><circle cx="634.52" cy="1660.56" r="7.7"/><circle cx="653.54" cy="1665.98" r="7.7"/><circle cx="664" cy="1671.54" r="7.7"/><circle cx="559.41" cy="1681.05" r="7.7"/><circle cx="579.38" cy="1675.43" r="7.7"/><circle cx="604.1" cy="1682.06" r="7.7"/><circle cx="531.84" cy="1687.41" r="7.7"/><circle cx="550.85" cy="1686.5" r="7.7"/><circle cx="634.52" cy="1685.82" r="7.7"/><circle cx="653.54" cy="1682.88" r="7.7"/><circle cx="682.06" cy="1685.49" r="7.7"/><circle cx="691.57" cy="1679.56" r="7.7"/><circle cx="531.84" cy="1696.25" r="7.7"/><circle cx="691.57" cy="1694.52" r="7.7"/><circle cx="531.84" cy="1704.87" r="7.7"/><circle cx="691.57" cy="1707.81" r="7.7"/><circle cx="531.84" cy="1719.08" r="7.7"/><circle cx="691.57" cy="1714.69" r="7.7"/><circle cx="531.84" cy="1721.41" r="7.7"/><circle cx="691.57" cy="1723.2" r="7.7"/><circle cx="541.34" cy="1731.83" r="7.7"/><circle cx="691.57" cy="1729.03" r="7.7"/><circle cx="541.34" cy="1743.52" r="7.7"/><circle cx="680.16" cy="1745.16" r="7.7"/><circle cx="514.72" cy="1754.76" r="7.7"/><circle cx="710.59" cy="1753.56" r="7.7"/><circle cx="522.33" cy="1761.79" r="7.7"/><circle cx="701.08" cy="1769.23" r="7.7"/><circle cx="522.33" cy="1772.35" r="7.7"/><circle cx="691.57" cy="1774.84" r="7.7"/><circle cx="531.84" cy="1781.05" r="7.7"/><circle cx="691.57" cy="1783.23" r="7.7"/><circle cx="531.84" cy="1787.98" r="7.7"/><circle cx="682.06" cy="1790.74" r="7.7"/><circle cx="560.36" cy="1804.34" r="7.7"/><circle cx="682.06" cy="1795.21" r="7.7"/><circle cx="560.36" cy="1807.87" r="7.7"/><circle cx="672.55" cy="1807.35" r="7.7"/><circle cx="560.36" cy="1821.64" r="7.7"/><circle cx="663.05" cy="1822.46" r="7.7"/><circle cx="560.36" cy="1824.89" r="7.7"/><circle cx="663.05" cy="1825.13" r="7.7"/><circle cx="579.38" cy="1836.67" r="7.7"/><circle cx="653.54" cy="1837.94" r="7.7"/><circle cx="588.88" cy="1844.3" r="7.7"/><circle cx="634.52" cy="1848.5" r="7.7"/><circle cx="588.88" cy="1855.81" r="7.7"/><circle cx="634.52" cy="1856.54" r="7.7"/><circle cx="597.44" cy="1864.79" r="7.7"/><circle cx="626.92" cy="1860.67" r="7.7"/><circle cx="597.44" cy="1883.74" r="7.7"/><circle cx="626.92" cy="1877.61" r="7.7"/><circle cx="585.79" cy="1773.26" r="7.7"/><circle cx="616.96" cy="1763.84" r="7.7"/><circle cx="616.09" cy="1742.72" r="7.7"/><circle cx="564.03" cy="1794.95" r="7.7"/><circle cx="617.68" cy="1791.73" r="7.7"/><circle cx="680.05" cy="1759.14" r="7.7"/><circle cx="628.12" cy="1757.53" r="7.7"/><circle cx="553.13" cy="1781.7" r="7.7"/><circle cx="595.73" cy="1702.55" r="7.7"/><circle cx="601.16" cy="1810.08" r="7.7"/><circle cx="648.97" cy="1711.86" r="7.7"/><circle cx="680.99" cy="1775.05" r="7.7"/><circle cx="680.92" cy="1722.36" r="7.7"/><circle cx="690.56" cy="1765.34" r="7.7"/><circle cx="642.51" cy="1830.64" r="7.7"/><circle cx="532.84" cy="1764.19" r="7.7"/><circle cx="670.11" cy="1736.7" r="7.7"/><circle cx="635.95" cy="1613.23" r="7.7"/><circle cx="589.97" cy="1834.55" r="7.7"/><circle cx="648.97" cy="1696.23" r="7.7"/><circle cx="659.62" cy="1699.46" r="7.7"/><circle cx="570.63" cy="1829.18" r="7.7"/><circle cx="542.48" cy="1712.67" r="7.7"/><circle cx="616.46" cy="1734.75" r="7.7"/><circle cx="611.7" cy="1856.17" r="7.7"/><circle cx="670.27" cy="1781.04" r="7.7"/><circle cx="585.08" cy="1714.87" r="7.7"/><circle cx="596.37" cy="1777.17" r="7.7"/><circle cx="648.13" cy="1740.03" r="7.7"/><circle cx="605.41" cy="1738.84" r="7.7"/><circle cx="627.68" cy="1726.11" r="7.7"/><circle cx="545.65" cy="1754.47" r="7.7"/><circle cx="644.03" cy="1682.92" r="7.7"/><circle cx="652.78" cy="1828.45" r="7.7"/><circle cx="680.92" cy="1717.59" r="7.7"/><circle cx="638.33" cy="1694.66" r="7.7"/><circle cx="553.13" cy="1696.03" r="7.7"/><circle cx="638.33" cy="1719.95" r="7.7"/><circle cx="585.08" cy="1697.56" r="7.7"/><circle cx="563.78" cy="1777.97" r="7.7"/><circle cx="576.57" cy="1754.06" r="7.7"/><circle cx="574.43" cy="1725.51" r="7.7"/><circle cx="596.22" cy="1789.96" r="7.7"/><circle cx="532.91" cy="1774.26" r="7.7"/><circle cx="641.96" cy="1812.09" r="7.7"/><circle cx="606.38" cy="1723.02" r="7.7"/><circle cx="649.26" cy="1776.55" r="7.7"/><circle cx="607.27" cy="1866.76" r="7.7"/><circle cx="638.43" cy="1756.31" r="7.7"/><circle cx="600.29" cy="1841.65" r="7.7"/><circle cx="591.74" cy="1674.88" r="7.7"/><circle cx="637.99" cy="1764.63" r="7.7"/><circle cx="608.85" cy="1659.95" r="7.7"/><circle cx="580.64" cy="1796.68" r="7.7"/><circle cx="607.5" cy="1753.57" r="7.7"/><circle cx="637.92" cy="1730.82" r="7.7"/><circle cx="606.38" cy="1709.89" r="7.7"/><circle cx="648.97" cy="1720.19" r="7.7"/><circle cx="670.27" cy="1695.23" r="7.7"/><circle cx="611.16" cy="1838.63" r="7.7"/><circle cx="648.97" cy="1784.4" r="7.7"/><circle cx="648.5" cy="1766.12" r="7.7"/><circle cx="627.68" cy="1780.52" r="7.7"/><circle cx="595.73" cy="1697.64" r="7.7"/><circle cx="638.33" cy="1715.62" r="7.7"/><circle cx="627.68" cy="1718.28" r="7.7"/><circle cx="605.73" cy="1736.46" r="7.7"/><circle cx="566.26" cy="1750.57" r="7.7"/><circle cx="595.93" cy="1766.1" r="7.7"/><circle cx="580.76" cy="1805.88" r="7.7"/><circle cx="585.49" cy="1789.43" r="7.7"/><circle cx="623.11" cy="1859.33" r="7.7"/><circle cx="591.17" cy="1816.06" r="7.7"/><circle cx="591.17" cy="1828.46" r="7.7"/><circle cx="585.42" cy="1765.21" r="7.7"/><circle cx="632.24" cy="1815.74" r="7.7"/><circle cx="659.84" cy="1772" r="7.7"/><circle cx="671.33" cy="1793.99" r="7.7"/><circle cx="590.79" cy="1796.59" r="7.7"/><circle cx="606.95" cy="1789.86" r="7.7"/><circle cx="617.03" cy="1700.28" r="7.7"/><circle cx="639.14" cy="1786.82" r="7.7"/><circle cx="574.43" cy="1692.23" r="7.7"/><circle cx="617.09" cy="1884.23" r="7.7"/><circle cx="580.9" cy="1814.51" r="7.7"/><circle cx="553.13" cy="1702.82" r="7.7"/><circle cx="658.8" cy="1740.63" r="7.7"/><circle cx="623.11" cy="1850.93" r="7.7"/><circle cx="574.43" cy="1717.24" r="7.7"/><circle cx="628.41" cy="1791.16" r="7.7"/><circle cx="617.03" cy="1712.35" r="7.7"/><circle cx="570.5" cy="1801.89" r="7.7"/><circle cx="607.27" cy="1882.47" r="7.7"/><circle cx="627.68" cy="1693.98" r="7.7"/><circle cx="659.38" cy="1734.23" r="7.7"/><circle cx="689.97" cy="1756.13" r="7.7"/><circle cx="611.36" cy="1810.26" r="7.7"/><circle cx="617.81" cy="1751.11" r="7.7"/><circle cx="574.43" cy="1781.32" r="7.7"/><circle cx="660.6" cy="1791.16" r="7.7"/><circle cx="553.87" cy="1765.37" r="7.7"/><circle cx="669.35" cy="1756.64" r="7.7"/><circle cx="573.38" cy="1747.65" r="7.7"/><circle cx="651.64" cy="1801.63" r="7.7"/><circle cx="631.35" cy="1797.95" r="7.7"/><circle cx="659.62" cy="1695.57" r="7.7"/><circle cx="552.02" cy="1740.43" r="7.7"/><circle cx="606.45" cy="1767.1" r="7.7"/><circle cx="570.63" cy="1818.97" r="7.7"/><circle cx="553.13" cy="1726.41" r="7.7"/><circle cx="606.38" cy="1784.54" r="7.7"/><circle cx="659.62" cy="1709.27" r="7.7"/><circle cx="615.03" cy="1636.76" r="7.7"/><circle cx="585.08" cy="1723.41" r="7.7"/><circle cx="632.24" cy="1831.06" r="7.7"/><circle cx="573.54" cy="1730.99" r="7.7"/><circle cx="669.48" cy="1741.79" r="7.7"/><circle cx="563.78" cy="1700.03" r="7.7"/><circle cx="535.34" cy="1758.04" r="7.7"/><circle cx="659.62" cy="1783.47" r="7.7"/><circle cx="601.43" cy="1820.49" r="7.7"/><circle cx="611.7" cy="1820.29" r="7.7"/><circle cx="543.36" cy="1768.27" r="7.7"/><circle cx="606.38" cy="1694.85" r="7.7"/><circle cx="601.43" cy="1829.08" r="7.7"/><circle cx="555.96" cy="1749.52" r="7.7"/><circle cx="542.57" cy="1785.66" r="7.7"/><circle cx="574.43" cy="1705.5" r="7.7"/><circle cx="590.96" cy="1808.98" r="7.7"/><circle cx="659.62" cy="1726.54" r="7.7"/><circle cx="525.03" cy="1756.77" r="7.7"/><circle cx="594.73" cy="1738.77" r="7.7"/><circle cx="627.19" cy="1734.27" r="7.7"/><circle cx="569.39" cy="1663.73" r="7.7"/><circle cx="617.03" cy="1728.87" r="7.7"/><circle cx="563.78" cy="1714.73" r="7.7"/><circle cx="621.97" cy="1818.87" r="7.7"/><circle cx="542.48" cy="1695.39" r="7.7"/><circle cx="644.03" cy="1664.59" r="7.7"/><circle cx="648.97" cy="1703.05" r="7.7"/><circle cx="562.8" cy="1734.24" r="7.7"/><circle cx="611.07" cy="1804.19" r="7.7"/><circle cx="700.28" cy="1753.46" r="7.7"/><circle cx="670.27" cy="1712.16" r="7.7"/><circle cx="585.08" cy="1706.55" r="7.7"/><circle cx="584.06" cy="1743.33" r="7.7"/><circle cx="621.56" cy="1806.31" r="7.7"/><circle cx="680.92" cy="1782.09" r="7.7"/><circle cx="564.39" cy="1763.51" r="7.7"/><circle cx="637.45" cy="1742.65" r="7.7"/><circle cx="638.33" cy="1704.7" r="7.7"/><circle cx="621.75" cy="1838.61" r="7.7"/><circle cx="669.53" cy="1762.08" r="7.7"/><circle cx="670.27" cy="1728.94" r="7.7"/><circle cx="584.27" cy="1732.75" r="7.7"/><circle cx="659.04" cy="1750.43" r="7.7"/><circle cx="570.56" cy="1808.5" r="7.7"/><circle cx="627.48" cy="1761.31" r="7.7"/><circle cx="600.93" cy="1799.9" r="7.7"/><circle cx="617.03" cy="1694" r="7.7"/><circle cx="652.78" cy="1820.14" r="7.7"/><circle cx="542.48" cy="1702.53" r="7.7"/><circle cx="543.48" cy="1777.34" r="7.7"/><circle cx="627.68" cy="1706.47" r="7.7"/><circle cx="595.73" cy="1784.54" r="7.7"/><circle cx="631.76" cy="1808.34" r="7.7"/><circle cx="648.73" cy="1753.96" r="7.7"/><circle cx="611.7" cy="1848.55" r="7.7"/><circle cx="563.78" cy="1695.94" r="7.7"/><circle cx="600.57" cy="1837.92" r="7.7"/><circle cx="541.34" cy="1689.7" r="7.7"/><circle cx="586.88" cy="1758.85" r="7.7"/><circle cx="553.3" cy="1790.31" r="7.7"/><circle cx="588.41" cy="1615.87" r="7.7"/><circle cx="575.22" cy="1773.42" r="7.7"/><circle cx="606.38" cy="1702.2" r="7.7"/><circle cx="670.42" cy="1770.89" r="7.7"/><circle cx="679.66" cy="1754.99" r="7.7"/><circle cx="542.48" cy="1720.79" r="7.7"/><circle cx="564.64" cy="1770.09" r="7.7"/></g><g fill="#000"><circle cx="877.65" cy="1352.65" r="7.7"/><circle cx="877.65" cy="1475.36" r="7.7"/><circle cx="835.48" cy="1509.09" r="7.7"/><circle cx="877.65" cy="1510.36" r="7.7"/><circle cx="891.77" cy="1509.09" r="7.7"/><circle cx="905.48" cy="1517.1" r="7.7"/><circle cx="920.24" cy="1521.74" r="7.7"/><circle cx="891.77" cy="1525.54" r="7.7"/><circle cx="863.31" cy="1535.02" r="7.7"/><circle cx="877.65" cy="1537.13" r="7.7"/><circle cx="920.24" cy="1550.2" r="7.7"/><circle cx="849.61" cy="1557.58" r="7.7"/><circle cx="863.31" cy="1559.27" r="7.7"/><circle cx="877.65" cy="1556.11" r="7.7"/><circle cx="793.31" cy="1568.76" r="7.7"/><circle cx="821.56" cy="1566.65" r="7.7"/><circle cx="779.4" cy="1576.56" r="7.7"/><circle cx="905.48" cy="1569.81" r="7.7"/><circle cx="920.24" cy="1568.76" r="7.7"/><circle cx="933.94" cy="1574.45" r="7.7"/><circle cx="849.61" cy="1572.97" r="7.7"/><circle cx="863.31" cy="1577.19" r="7.7"/><circle cx="807.44" cy="1580.35" r="7.7"/><circle cx="877.65" cy="1582.46" r="7.7"/><circle cx="891.77" cy="1584.57" r="7.7"/><circle cx="821.56" cy="1584.57" r="7.7"/><circle cx="835.48" cy="1586.68" r="7.7"/><circle cx="793.31" cy="1587.73" r="7.7"/><circle cx="849.61" cy="1589.84" r="7.7"/><circle cx="920.24" cy="1585.63" r="7.7"/><circle cx="947.64" cy="1584.57" r="7.7"/><circle cx="961.98" cy="1583.52" r="7.7"/><circle cx="976.11" cy="1584.15" r="7.7"/><circle cx="905.48" cy="1591.95" r="7.7"/><circle cx="807.44" cy="1600.38" r="7.7"/><circle cx="821.56" cy="1603.55" r="7.7"/><circle cx="835.48" cy="1604.6" r="7.7"/><circle cx="849.61" cy="1607.76" r="7.7"/><circle cx="863.31" cy="1600.38" r="7.7"/><circle cx="877.65" cy="1602.49" r="7.7"/><circle cx="891.77" cy="1608.82" r="7.7"/><circle cx="905.48" cy="1607.76" r="7.7"/><circle cx="920.24" cy="1604.6" r="7.7"/><circle cx="933.94" cy="1608.82" r="7.7"/><circle cx="947.64" cy="1608.82" r="7.7"/><circle cx="807.44" cy="1616.2" r="7.7"/><circle cx="821.56" cy="1620.41" r="7.7"/><circle cx="891.77" cy="1618.3" r="7.7"/><circle cx="905.48" cy="1618.3" r="7.7"/><circle cx="920.24" cy="1618.3" r="7.7"/><circle cx="877.65" cy="1622.52" r="7.7"/><circle cx="821.56" cy="1640.44" r="7.7"/><circle cx="835.48" cy="1632.01" r="7.7"/><circle cx="849.61" cy="1633.06" r="7.7"/><circle cx="891.77" cy="1643.61" r="7.7"/><circle cx="933.94" cy="1639.39" r="7.7"/><circle cx="947.64" cy="1642.55" r="7.7"/><circle cx="793.31" cy="1658.36" r="7.7"/><circle cx="807.44" cy="1661.53" r="7.7"/><circle cx="849.61" cy="1654.15" r="7.7"/><circle cx="863.31" cy="1653.09" r="7.7"/><circle cx="891.77" cy="1661.53" r="7.7"/><circle cx="905.48" cy="1657.31" r="7.7"/><circle cx="933.94" cy="1658.36" r="7.7"/><circle cx="947.64" cy="1664.69" r="7.7"/><circle cx="961.98" cy="1667.22" r="7.7"/><circle cx="835.48" cy="1666.8" r="7.7"/><circle cx="849.61" cy="1671.01" r="7.7"/><circle cx="863.31" cy="1669.96" r="7.7"/><circle cx="877.65" cy="1672.07" r="7.7"/><circle cx="920.24" cy="1671.01" r="7.7"/><circle cx="891.77" cy="1678.39" r="7.7"/><circle cx="905.48" cy="1676.29" r="7.7"/><circle cx="821.56" cy="1679.87" r="7.7"/><circle cx="863.31" cy="1686.19" r="7.7"/><circle cx="905.48" cy="1693.78" r="7.7"/><circle cx="849.61" cy="1708.96" r="7.7"/><circle cx="877.65" cy="1708.96" r="7.7"/><circle cx="891.77" cy="1706.43" r="7.7"/><circle cx="905.48" cy="1714.24" r="7.7"/><circle cx="835.48" cy="1727.52" r="7.7"/><circle cx="849.61" cy="1727.52" r="7.7"/><circle cx="863.31" cy="1731.1" r="7.7"/><circle cx="877.65" cy="1733.21" r="7.7"/><circle cx="891.77" cy="1726.89" r="7.7"/><circle cx="920.24" cy="1727.94" r="7.7"/><circle cx="863.31" cy="1755.77" r="7.7"/><circle cx="891.77" cy="1750.71" r="7.7"/><circle cx="891.77" cy="1766.94" r="7.7"/><circle cx="877.65" cy="1778.96" r="7.7"/><circle cx="877.65" cy="1825.98" r="7.7"/></g><line x1="878.5" y1="1621.5" x2="878.5" y2="1637" stroke="#000" stroke-width="7"/><line x1="825" y1="1621.5" x2="932" y2="1621.5" stroke="#000" stroke-width="7"/><line x1="825" y1="1637" x2="932" y2="1637" stroke="#000" stroke-width="7"/><rect x="1765.75" y="1759.75" width="207.1" height="280.55" fill="#d3d3d3"/><path d="M1765.75 2040.3 V1759.75 H1972.85 V2040.3" fill="none" stroke="#000" stroke-width="7.5"/><rect x="2034.25" y="1676.75" width="206.3" height="363.55" fill="#d3d3d3"/><path d="M2034.25 2040.3 V1676.75 H2240.55 V2040.3" fill="none" stroke="#000" stroke-width="7.5"/><line x1="1737" y1="1234.75" x2="1737" y2="2044.05" stroke="#000" stroke-width="7.5"/><line x1="1714" y1="1238.5" x2="1737" y2="1238.5" stroke="#000" stroke-width="7.5"/><text transform="translate(1702 1257.76) scale(1 1.04)" font-size="58" text-anchor="end">8</text><line x1="1714" y1="1438.95" x2="1737" y2="1438.95" stroke="#000" stroke-width="7.5"/><text transform="translate(1702 1458.21) scale(1 1.04)" font-size="58" text-anchor="end">6</text><line x1="1714" y1="1639.4" x2="1737" y2="1639.4" stroke="#000" stroke-width="7.5"/><text transform="translate(1702 1658.66) scale(1 1.04)" font-size="58" text-anchor="end">4</text><line x1="1714" y1="1839.85" x2="1737" y2="1839.85" stroke="#000" stroke-width="7.5"/><text transform="translate(1702 1859.11) scale(1 1.04)" font-size="58" text-anchor="end">2</text><text transform="translate(1702 2059.56) scale(1 1.04)" font-size="58" text-anchor="end">0</text><line x1="1712.5" y1="2040.3" x2="2275" y2="2040.3" stroke="#000" stroke-width="7.5"/><line x1="1870" y1="2040.3" x2="1870" y2="2063.6" stroke="#000" stroke-width="7.5"/><line x1="2138.5" y1="2040.3" x2="2138.5" y2="2063.6" stroke="#000" stroke-width="7.5"/><text transform="translate(1871 2126) scale(1 1.04)" font-size="60.5" text-anchor="middle">non-Amp</text><text transform="translate(2139 2126) scale(1 1.04)" font-size="60.5" text-anchor="middle">Amp</text><text transform="translate(2004.5 2215) scale(1 1.04)" font-size="66" text-anchor="middle"><tspan font-style="italic">MYCN</tspan> status</text><text transform="translate(1625.5 1638) rotate(-90) scale(1 1.04)" font-size="66" text-anchor="middle">Log2 <tspan font-style="italic">BRCA2</tspan></text><path d="M1865 1455.6 V1306.8 H2144.6 V1340.7" fill="none" stroke="#000" stroke-width="7" stroke-linejoin="miter"/><text transform="translate(1852 1276) scale(1 1.04)" font-size="66" text-anchor="start"><tspan font-style="italic">p</tspan> &lt; 0.0001</text><g fill="#000"><circle cx="1869.3" cy="1483.32" r="7.8"/><circle cx="1866.08" cy="1500.71" r="7.8"/><circle cx="1872.53" cy="1497.55" r="7.8"/><circle cx="1869.3" cy="1528.46" r="7.8"/><circle cx="1869.3" cy="1543.51" r="7.8"/><circle cx="1863.93" cy="1561.68" r="7.8"/><circle cx="1875.75" cy="1563.59" r="7.8"/><circle cx="1863.93" cy="1579.2" r="7.8"/><circle cx="1875.75" cy="1575.99" r="7.8"/><circle cx="1863.93" cy="1586.09" r="7.8"/><circle cx="1875.75" cy="1585.58" r="7.8"/><circle cx="1857.48" cy="1604.7" r="7.8"/><circle cx="1885.43" cy="1597.43" r="7.8"/><circle cx="1851.03" cy="1608.52" r="7.8"/><circle cx="1878.98" cy="1614.01" r="7.8"/><circle cx="1838.13" cy="1619.2" r="7.8"/><circle cx="1902.62" cy="1625.09" r="7.8"/><circle cx="1831.69" cy="1634.44" r="7.8"/><circle cx="1909.07" cy="1635.78" r="7.8"/><circle cx="1825.24" cy="1649.71" r="7.8"/><circle cx="1913.37" cy="1650.02" r="7.8"/><circle cx="1820.94" cy="1654.44" r="7.8"/><circle cx="1915.52" cy="1653.46" r="7.8"/><circle cx="1820.94" cy="1667.55" r="7.8"/><circle cx="1917.67" cy="1668.55" r="7.8"/><circle cx="1827.39" cy="1676.47" r="7.8"/><circle cx="1913.37" cy="1673.49" r="7.8"/><circle cx="1827.39" cy="1688.33" r="7.8"/><circle cx="1913.37" cy="1685.85" r="7.8"/><circle cx="1825.24" cy="1697.23" r="7.8"/><circle cx="1913.37" cy="1692.47" r="7.8"/><circle cx="1816.64" cy="1700.32" r="7.8"/><circle cx="1909.07" cy="1701.85" r="7.8"/><circle cx="1784.39" cy="1711.95" r="7.8"/><circle cx="1956.36" cy="1710.41" r="7.8"/><circle cx="1777.94" cy="1718.65" r="7.8"/><circle cx="1960.66" cy="1721.25" r="7.8"/><circle cx="1773.65" cy="1731.74" r="7.8"/><circle cx="1964.96" cy="1731.65" r="7.8"/><circle cx="1771.5" cy="1740.18" r="7.8"/><circle cx="1967.11" cy="1737.86" r="7.8"/><circle cx="1770.42" cy="1749.35" r="7.8"/><circle cx="1968.19" cy="1745.52" r="7.8"/><circle cx="1773.65" cy="1752.54" r="7.8"/><circle cx="1967.11" cy="1757.57" r="7.8"/><circle cx="1773.65" cy="1765.45" r="7.8"/><circle cx="1967.11" cy="1766.74" r="7.8"/><circle cx="1773.65" cy="1777.31" r="7.8"/><circle cx="1964.96" cy="1778.5" r="7.8"/><circle cx="1780.09" cy="1784.05" r="7.8"/><circle cx="1960.66" cy="1784.17" r="7.8"/><circle cx="1790.84" cy="1792.46" r="7.8"/><circle cx="1947.76" cy="1795.84" r="7.8"/><circle cx="1790.84" cy="1803.56" r="7.8"/><circle cx="1941.32" cy="1807.94" r="7.8"/><circle cx="1797.29" cy="1817.78" r="7.8"/><circle cx="1943.47" cy="1820.9" r="7.8"/><circle cx="1797.29" cy="1828.82" r="7.8"/><circle cx="1949.91" cy="1824.72" r="7.8"/><circle cx="1786.54" cy="1833.16" r="7.8"/><circle cx="1952.06" cy="1830.06" r="7.8"/><circle cx="1801.59" cy="1843.33" r="7.8"/><circle cx="1939.17" cy="1847.12" r="7.8"/><circle cx="1805.89" cy="1856.22" r="7.8"/><circle cx="1937.02" cy="1856.56" r="7.8"/><circle cx="1805.89" cy="1862.59" r="7.8"/><circle cx="1932.72" cy="1862.1" r="7.8"/><circle cx="1829.54" cy="1865.08" r="7.8"/><circle cx="1926.27" cy="1864.47" r="7.8"/><circle cx="1831.69" cy="1879.34" r="7.8"/><circle cx="1904.77" cy="1882.59" r="7.8"/><circle cx="1851.03" cy="1891.59" r="7.8"/><circle cx="1900.47" cy="1889.39" r="7.8"/><circle cx="1857.48" cy="1903.94" r="7.8"/><circle cx="1891.87" cy="1905.73" r="7.8"/><circle cx="1846.73" cy="1915.25" r="7.8"/><circle cx="1878.98" cy="1917.43" r="7.8"/><circle cx="1866.08" cy="1924.12" r="7.8"/><circle cx="1872.53" cy="1919.55" r="7.8"/><circle cx="1855.33" cy="1937.77" r="7.8"/><circle cx="1878.98" cy="1935.47" r="7.8"/><circle cx="1882.2" cy="1948.71" r="7.8"/><circle cx="1864.06" cy="1822.48" r="7.8"/><circle cx="1955.4" cy="1731.32" r="7.8"/><circle cx="1809.65" cy="1807.18" r="7.8"/><circle cx="1831.69" cy="1769.64" r="7.8"/><circle cx="1872.1" cy="1700.33" r="7.8"/><circle cx="1877.36" cy="1879.7" r="7.8"/><circle cx="1907.57" cy="1729.18" r="7.8"/><circle cx="1789.6" cy="1781.5" r="7.8"/><circle cx="1816.41" cy="1720.08" r="7.8"/><circle cx="1902.22" cy="1825.11" r="7.8"/><circle cx="1929.3" cy="1796.6" r="7.8"/><circle cx="1884.2" cy="1624.45" r="7.8"/><circle cx="1938.09" cy="1759.14" r="7.8"/><circle cx="1830.4" cy="1652.62" r="7.8"/><circle cx="1922.2" cy="1717.17" r="7.8"/><circle cx="1809.3" cy="1797.76" r="7.8"/><circle cx="1868.23" cy="1867.73" r="7.8"/><circle cx="1898" cy="1728.87" r="7.8"/><circle cx="1928.42" cy="1756.91" r="7.8"/><circle cx="1831.04" cy="1777.11" r="7.8"/><circle cx="1858.77" cy="1656.09" r="7.8"/><circle cx="1812.34" cy="1761.32" r="7.8"/><circle cx="1846.49" cy="1680.03" r="7.8"/><circle cx="1865.51" cy="1814.73" r="7.8"/><circle cx="1787.56" cy="1717.27" r="7.8"/><circle cx="1837.87" cy="1804.76" r="7.8"/><circle cx="1874.68" cy="1903.78" r="7.8"/><circle cx="1860.71" cy="1760.63" r="7.8"/><circle cx="1864.5" cy="1723.97" r="7.8"/><circle cx="1812.34" cy="1752.83" r="7.8"/><circle cx="1847.27" cy="1807.09" r="7.8"/><circle cx="1911.68" cy="1744.4" r="7.8"/><circle cx="1880.7" cy="1890.87" r="7.8"/><circle cx="1851.03" cy="1753.1" r="7.8"/><circle cx="1877.9" cy="1864.93" r="7.8"/><circle cx="1958.77" cy="1745.47" r="7.8"/><circle cx="1869.3" cy="1733.24" r="7.8"/><circle cx="1894.26" cy="1679.57" r="7.8"/><circle cx="1870.81" cy="1891.88" r="7.8"/><circle cx="1850.17" cy="1771.43" r="7.8"/><circle cx="1821.24" cy="1842.57" r="7.8"/><circle cx="1912.58" cy="1720.56" r="7.8"/><circle cx="1855.18" cy="1748.95" r="7.8"/><circle cx="1869.3" cy="1776.67" r="7.8"/><circle cx="1851.27" cy="1706.25" r="7.8"/><circle cx="1878.87" cy="1732.5" r="7.8"/><circle cx="1870.38" cy="1713.88" r="7.8"/><circle cx="1931.81" cy="1721.11" r="7.8"/><circle cx="1813.06" cy="1708.49" r="7.8"/><circle cx="1818.53" cy="1792.69" r="7.8"/><circle cx="1883.91" cy="1835.95" r="7.8"/><circle cx="1932.15" cy="1781.43" r="7.8"/><circle cx="1825.4" cy="1859.85" r="7.8"/><circle cx="1894.26" cy="1674.04" r="7.8"/><circle cx="1883.15" cy="1796.27" r="7.8"/><circle cx="1848.88" cy="1874.09" r="7.8"/><circle cx="1799.1" cy="1781.93" r="7.8"/><circle cx="1860.55" cy="1840.5" r="7.8"/><circle cx="1883.14" cy="1827.97" r="7.8"/><circle cx="1855.76" cy="1818.83" r="7.8"/><circle cx="1845.76" cy="1747.58" r="7.8"/><circle cx="1869.66" cy="1615.54" r="7.8"/><circle cx="1890.19" cy="1852.73" r="7.8"/><circle cx="1880.05" cy="1633.42" r="7.8"/><circle cx="1884.71" cy="1684.28" r="7.8"/><circle cx="1831.04" cy="1732.61" r="7.8"/><circle cx="1854.61" cy="1646.15" r="7.8"/><circle cx="1901.61" cy="1797.74" r="7.8"/><circle cx="1855.33" cy="1739.82" r="7.8"/><circle cx="1951.05" cy="1723.89" r="7.8"/><circle cx="1831.69" cy="1757.1" r="7.8"/><circle cx="1855.46" cy="1794.01" r="7.8"/><circle cx="1875.13" cy="1782.02" r="7.8"/><circle cx="1942.33" cy="1836.4" r="7.8"/><circle cx="1939.17" cy="1739.01" r="7.8"/><circle cx="1854.61" cy="1692.34" r="7.8"/><circle cx="1850.17" cy="1724.46" r="7.8"/><circle cx="1878.87" cy="1776.24" r="7.8"/><circle cx="1835.16" cy="1858.81" r="7.8"/><circle cx="1922.51" cy="1801.72" r="7.8"/><circle cx="1888.44" cy="1773.15" r="7.8"/><circle cx="1840.82" cy="1876.57" r="7.8"/><circle cx="1875.16" cy="1686.48" r="7.8"/><circle cx="1909.07" cy="1764.1" r="7.8"/><circle cx="1894.14" cy="1782.5" r="7.8"/><circle cx="1908.59" cy="1710.71" r="7.8"/><circle cx="1851.03" cy="1632.91" r="7.8"/><circle cx="1957.44" cy="1750.36" r="7.8"/><circle cx="1875.16" cy="1677.17" r="7.8"/><circle cx="1802.34" cy="1725.18" r="7.8"/><circle cx="1844.82" cy="1644.58" r="7.8"/><circle cx="1894.74" cy="1818.74" r="7.8"/><circle cx="1921.1" cy="1745.28" r="7.8"/><circle cx="1955.4" cy="1777.5" r="7.8"/><circle cx="1841.36" cy="1767.25" r="7.8"/><circle cx="1916.6" cy="1866.39" r="7.8"/><circle cx="1859.63" cy="1666.13" r="7.8"/><circle cx="1909.69" cy="1839.42" r="7.8"/><circle cx="1840.61" cy="1774.33" r="7.8"/><circle cx="1836.34" cy="1743.26" r="7.8"/><circle cx="1917.13" cy="1730.07" r="7.8"/><circle cx="1874.18" cy="1860.09" r="7.8"/><circle cx="1845.26" cy="1722.87" r="7.8"/><circle cx="1831.07" cy="1843.62" r="7.8"/><circle cx="1948.48" cy="1739.31" r="7.8"/><circle cx="1783.21" cy="1777.57" r="7.8"/><circle cx="1938.53" cy="1797.43" r="7.8"/><circle cx="1841.36" cy="1758.31" r="7.8"/><circle cx="1899.4" cy="1763.16" r="7.8"/><circle cx="1864.59" cy="1746.35" r="7.8"/><circle cx="1865.6" cy="1685.98" r="7.8"/><circle cx="1901.91" cy="1742.01" r="7.8"/><circle cx="1870.38" cy="1638.85" r="7.8"/><circle cx="1783.32" cy="1766.73" r="7.8"/><circle cx="1827.61" cy="1781.73" r="7.8"/><circle cx="1859.09" cy="1884" r="7.8"/><circle cx="1878.98" cy="1666.62" r="7.8"/><circle cx="1886.5" cy="1878.65" r="7.8"/><circle cx="1800.25" cy="1807.54" r="7.8"/><circle cx="1840.28" cy="1664.06" r="7.8"/><circle cx="1835.03" cy="1697.86" r="7.8"/><circle cx="1884.63" cy="1778.39" r="7.8"/><circle cx="1789.26" cy="1746.21" r="7.8"/><circle cx="1806.02" cy="1834.8" r="7.8"/><circle cx="1908" cy="1665.7" r="7.8"/><circle cx="1792.78" cy="1774.03" r="7.8"/><circle cx="1837.12" cy="1778.62" r="7.8"/><circle cx="1840.9" cy="1846.4" r="7.8"/><circle cx="1906.92" cy="1870.89" r="7.8"/><circle cx="1899.4" cy="1634.28" r="7.8"/><circle cx="1815.75" cy="1830.55" r="7.8"/><circle cx="1807.04" cy="1820.29" r="7.8"/><circle cx="1827.39" cy="1738.09" r="7.8"/><circle cx="1779.84" cy="1745.67" r="7.8"/><circle cx="1926.7" cy="1730.58" r="7.8"/><circle cx="1832.16" cy="1715.04" r="7.8"/><circle cx="1903.82" cy="1674.94" r="7.8"/><circle cx="1866.8" cy="1603.34" r="7.8"/><circle cx="1860.71" cy="1634" r="7.8"/><circle cx="1844.82" cy="1694.48" r="7.8"/><circle cx="1914.23" cy="1812.92" r="7.8"/><circle cx="1883.28" cy="1734.92" r="7.8"/><circle cx="1806.83" cy="1825.29" r="7.8"/><circle cx="1920.54" cy="1736.94" r="7.8"/><circle cx="1870.38" cy="1754" r="7.8"/><circle cx="1860.92" cy="1887.03" r="7.8"/><circle cx="1826.93" cy="1745.54" r="7.8"/><circle cx="1862.09" cy="1848.57" r="7.8"/><circle cx="1870.38" cy="1763.97" r="7.8"/><circle cx="1835.65" cy="1720.17" r="7.8"/><circle cx="1951.16" cy="1783.27" r="7.8"/><circle cx="1918.74" cy="1764.54" r="7.8"/><circle cx="1936.26" cy="1726.83" r="7.8"/><circle cx="1860.71" cy="1751.78" r="7.8"/><circle cx="1938.09" cy="1766.32" r="7.8"/><circle cx="1888.65" cy="1660.01" r="7.8"/><circle cx="1874.01" cy="1742.19" r="7.8"/><circle cx="1880.82" cy="1850.58" r="7.8"/><circle cx="1874.2" cy="1650.97" r="7.8"/><circle cx="1927.65" cy="1851.53" r="7.8"/><circle cx="1876.11" cy="1603.57" r="7.8"/><circle cx="1866.08" cy="1804.53" r="7.8"/><circle cx="1902.26" cy="1748.3" r="7.8"/><circle cx="1890.03" cy="1847.1" r="7.8"/><circle cx="1893.79" cy="1694.95" r="7.8"/><circle cx="1928.42" cy="1767.19" r="7.8"/><circle cx="1899.55" cy="1850.82" r="7.8"/><circle cx="1853.61" cy="1703.46" r="7.8"/><circle cx="1930.84" cy="1829.89" r="7.8"/><circle cx="1783.32" cy="1755.19" r="7.8"/><circle cx="1893.64" cy="1835.41" r="7.8"/><circle cx="1946.81" cy="1709.13" r="7.8"/><circle cx="1921.3" cy="1826.64" r="7.8"/><circle cx="1806.8" cy="1724.02" r="7.8"/><circle cx="1835.23" cy="1834.58" r="7.8"/><circle cx="1945.83" cy="1772.88" r="7.8"/><circle cx="1903.58" cy="1648.39" r="7.8"/><circle cx="1940.38" cy="1825.26" r="7.8"/><circle cx="1895.64" cy="1880.84" r="7.8"/><circle cx="1835.45" cy="1827.22" r="7.8"/><circle cx="1864.43" cy="1860.56" r="7.8"/><circle cx="1949.35" cy="1749.8" r="7.8"/><circle cx="1877.69" cy="1655.11" r="7.8"/><circle cx="1892.68" cy="1827.12" r="7.8"/><circle cx="1918.74" cy="1753.78" r="7.8"/><circle cx="1803.5" cy="1708.86" r="7.8"/><circle cx="1825.88" cy="1703.29" r="7.8"/><circle cx="1797.18" cy="1721.91" r="7.8"/><circle cx="1857.48" cy="1912.22" r="7.8"/><circle cx="1822.01" cy="1766.17" r="7.8"/><circle cx="1796.28" cy="1836.98" r="7.8"/><circle cx="1849.31" cy="1658.47" r="7.8"/><circle cx="1869.3" cy="1666.35" r="7.8"/><circle cx="1859.74" cy="1774.6" r="7.8"/><circle cx="1884.89" cy="1804.63" r="7.8"/><circle cx="1865.77" cy="1624.86" r="7.8"/><circle cx="1811.91" cy="1774.07" r="7.8"/><circle cx="1941.65" cy="1784.4" r="7.8"/><circle cx="1835.03" cy="1645.52" r="7.8"/><circle cx="1899.83" cy="1704.85" r="7.8"/><circle cx="1850.72" cy="1844.52" r="7.8"/><circle cx="1780.81" cy="1741.28" r="7.8"/><circle cx="1957.44" cy="1764.98" r="7.8"/><circle cx="1824.62" cy="1847.41" r="7.8"/><circle cx="1883.94" cy="1861.37" r="7.8"/><circle cx="1875.48" cy="1802.49" r="7.8"/><circle cx="1867.15" cy="1942.97" r="7.8"/><circle cx="1856.67" cy="1807.23" r="7.8"/><circle cx="1856.05" cy="1680.36" r="7.8"/><circle cx="1816.78" cy="1815.9" r="7.8"/><circle cx="1920.07" cy="1790.23" r="7.8"/><circle cx="1923.98" cy="1811.74" r="7.8"/><circle cx="1875.25" cy="1810.86" r="7.8"/><circle cx="1836.7" cy="1733.89" r="7.8"/><circle cx="1947.76" cy="1753.29" r="7.8"/><circle cx="1887.15" cy="1656.29" r="7.8"/><circle cx="1860.35" cy="1614.78" r="7.8"/><circle cx="1843.35" cy="1854.52" r="7.8"/><circle cx="1913.12" cy="1829.62" r="7.8"/><circle cx="1889.72" cy="1630.65" r="7.8"/><circle cx="1873.6" cy="1828.1" r="7.8"/><circle cx="1826.53" cy="1811.2" r="7.8"/><circle cx="1892.59" cy="1737.27" r="7.8"/><circle cx="1837" cy="1792.28" r="7.8"/><circle cx="1851.03" cy="1767.36" r="7.8"/><circle cx="1783.21" cy="1733.07" r="7.8"/><circle cx="1880.21" cy="1846.02" r="7.8"/><circle cx="1836.94" cy="1688.19" r="7.8"/><circle cx="1896.6" cy="1660.46" r="7.8"/><circle cx="1808.76" cy="1738.15" r="7.8"/><circle cx="1815.65" cy="1859.53" r="7.8"/><circle cx="1821.47" cy="1731.09" r="7.8"/><circle cx="1903.45" cy="1859.97" r="7.8"/><circle cx="1808.09" cy="1750.51" r="7.8"/><circle cx="1815.26" cy="1852.27" r="7.8"/><circle cx="1874.98" cy="1619.45" r="7.8"/><circle cx="1792.99" cy="1758.74" r="7.8"/><circle cx="1858.56" cy="1868.8" r="7.8"/><circle cx="1936.26" cy="1774.32" r="7.8"/><circle cx="1864.65" cy="1741.85" r="7.8"/><circle cx="1849.96" cy="1876.17" r="7.8"/><circle cx="1854.52" cy="1824.21" r="7.8"/><circle cx="1883.28" cy="1908.06" r="7.8"/><circle cx="1898.32" cy="1661.75" r="7.8"/><circle cx="1854.88" cy="1725.83" r="7.8"/><circle cx="1908.92" cy="1848.42" r="7.8"/><circle cx="1883.99" cy="1698.72" r="7.8"/><circle cx="1903.58" cy="1692.9" r="7.8"/><circle cx="1854.7" cy="1833.42" r="7.8"/><circle cx="1811.42" cy="1841.81" r="7.8"/><circle cx="1818.07" cy="1739.52" r="7.8"/><circle cx="1874.2" cy="1697.05" r="7.8"/><circle cx="1833.99" cy="1853.86" r="7.8"/><circle cx="1892.38" cy="1798.13" r="7.8"/><circle cx="1799.44" cy="1735.03" r="7.8"/><circle cx="1873.96" cy="1736.09" r="7.8"/><circle cx="1868.23" cy="1882.74" r="7.8"/><circle cx="1873.92" cy="1793.29" r="7.8"/><circle cx="1868.23" cy="1915.02" r="7.8"/><circle cx="1840.61" cy="1726.33" r="7.8"/><circle cx="1865.63" cy="1783.64" r="7.8"/><circle cx="1856.05" cy="1672.94" r="7.8"/><circle cx="1841.72" cy="1710.54" r="7.8"/><circle cx="1919.51" cy="1840.04" r="7.8"/><circle cx="1827.77" cy="1791.15" r="7.8"/><circle cx="1825.91" cy="1824.77" r="7.8"/><circle cx="1859.74" cy="1728.26" r="7.8"/><circle cx="1883.99" cy="1647.61" r="7.8"/><circle cx="1899.04" cy="1709.37" r="7.8"/><circle cx="1918.28" cy="1848.12" r="7.8"/><circle cx="1887.58" cy="1871.47" r="7.8"/><circle cx="1836.94" cy="1677.25" r="7.8"/><circle cx="1881.34" cy="1707.24" r="7.8"/><circle cx="1937.26" cy="1710.09" r="7.8"/><circle cx="1844.99" cy="1827.55" r="7.8"/><circle cx="1874.11" cy="1718.61" r="7.8"/><circle cx="1889.72" cy="1766.71" r="7.8"/><circle cx="1839.21" cy="1869.3" r="7.8"/><circle cx="1865.6" cy="1675.94" r="7.8"/><circle cx="1828.46" cy="1803.44" r="7.8"/><circle cx="1818.11" cy="1784.34" r="7.8"/><circle cx="1913.14" cy="1788.21" r="7.8"/><circle cx="1897.25" cy="1873.86" r="7.8"/><circle cx="1849.96" cy="1660.47" r="7.8"/><circle cx="1790.13" cy="1733.14" r="7.8"/><circle cx="1890.58" cy="1894.32" r="7.8"/><circle cx="1941.43" cy="1723.52" r="7.8"/><circle cx="1802.34" cy="1771.77" r="7.8"/><circle cx="1911.76" cy="1822.9" r="7.8"/><circle cx="1903.82" cy="1679.52" r="7.8"/><circle cx="1822.61" cy="1709.04" r="7.8"/><circle cx="1808.61" cy="1785.76" r="7.8"/><circle cx="1922.65" cy="1784.93" r="7.8"/><circle cx="1871.45" cy="1849" r="7.8"/><circle cx="1913.21" cy="1860.14" r="7.8"/><circle cx="1844.37" cy="1704.96" r="7.8"/><circle cx="1826.03" cy="1719.93" r="7.8"/><circle cx="1844.91" cy="1862.11" r="7.8"/><circle cx="1880.05" cy="1765.97" r="7.8"/><circle cx="1913.1" cy="1801.13" r="7.8"/><circle cx="1903.64" cy="1785.77" r="7.8"/><circle cx="1883.73" cy="1719.94" r="7.8"/><circle cx="1819.06" cy="1804.09" r="7.8"/><circle cx="1860.82" cy="1707.58" r="7.8"/><circle cx="1864.69" cy="1793.01" r="7.8"/><circle cx="1844.96" cy="1834.05" r="7.8"/><circle cx="1854.67" cy="1863.92" r="7.8"/><circle cx="1830.61" cy="1665.7" r="7.8"/><circle cx="1903.38" cy="1831.57" r="7.8"/><circle cx="1870.38" cy="1842.64" r="7.8"/><circle cx="1800.07" cy="1794.69" r="7.8"/><circle cx="1929.34" cy="1847.81" r="7.8"/><circle cx="1839.85" cy="1656.86" r="7.8"/><circle cx="1802.67" cy="1756.63" r="7.8"/><circle cx="1899.86" cy="1842.02" r="7.8"/><circle cx="1802.67" cy="1765.14" r="7.8"/><circle cx="1792.78" cy="1728.2" r="7.8"/><circle cx="1926.7" cy="1776.11" r="7.8"/></g><g fill="#000"><circle cx="2137.64" cy="1403.44" r="7.8"/><circle cx="2137.64" cy="1456.35" r="7.8"/><circle cx="2137.64" cy="1527.33" r="7.8"/><circle cx="2120.9" cy="1562.61" r="7.8"/><circle cx="2104.38" cy="1577.56" r="7.8"/><circle cx="2187.43" cy="1578.01" r="7.8"/><circle cx="2120.9" cy="1584.26" r="7.8"/><circle cx="2137.64" cy="1590.29" r="7.8"/><circle cx="2153.94" cy="1588.05" r="7.8"/><circle cx="2170.68" cy="1589.39" r="7.8"/><circle cx="2071.34" cy="1596.98" r="7.8"/><circle cx="2220.24" cy="1602.56" r="7.8"/><circle cx="2104.38" cy="1607.7" r="7.8"/><circle cx="2120.9" cy="1612.61" r="7.8"/><circle cx="2153.94" cy="1608.82" r="7.8"/><circle cx="2187.43" cy="1608.82" r="7.8"/><circle cx="2088.09" cy="1614.4" r="7.8"/><circle cx="2038.53" cy="1620.65" r="7.8"/><circle cx="2071.34" cy="1623.33" r="7.8"/><circle cx="2170.68" cy="1622.21" r="7.8"/><circle cx="2203.5" cy="1619.98" r="7.8"/><circle cx="2220.24" cy="1622.21" r="7.8"/><circle cx="2088.09" cy="1631.81" r="7.8"/><circle cx="2104.38" cy="1626.67" r="7.8"/><circle cx="2120.9" cy="1631.14" r="7.8"/><circle cx="2153.94" cy="1627.79" r="7.8"/><circle cx="2137.64" cy="1636.72" r="7.8"/><circle cx="2187.43" cy="1634.49" r="7.8"/><circle cx="2237.21" cy="1630.47" r="7.8"/><circle cx="2038.53" cy="1637.84" r="7.8"/><circle cx="2054.6" cy="1641.18" r="7.8"/><circle cx="2071.34" cy="1640.07" r="7.8"/><circle cx="2203.5" cy="1637.84" r="7.8"/><circle cx="2220.24" cy="1640.07" r="7.8"/><circle cx="2104.38" cy="1642.97" r="7.8"/><circle cx="2120.9" cy="1646.76" r="7.8"/><circle cx="2153.94" cy="1644.53" r="7.8"/><circle cx="2170.68" cy="1644.53" r="7.8"/><circle cx="2137.64" cy="1652.79" r="7.8"/><circle cx="2187.43" cy="1652.79" r="7.8"/><circle cx="2237.21" cy="1653.46" r="7.8"/><circle cx="2038.53" cy="1657.48" r="7.8"/><circle cx="2054.6" cy="1657.93" r="7.8"/><circle cx="2071.34" cy="1656.81" r="7.8"/><circle cx="2088.09" cy="1660.16" r="7.8"/><circle cx="2104.38" cy="1660.16" r="7.8"/><circle cx="2203.5" cy="1661.72" r="7.8"/><circle cx="2220.24" cy="1656.81" r="7.8"/><circle cx="2120.9" cy="1665.74" r="7.8"/><circle cx="2153.94" cy="1663.51" r="7.8"/><circle cx="2170.68" cy="1663.51" r="7.8"/><circle cx="2071.34" cy="1667.97" r="7.8"/><circle cx="2054.6" cy="1676.9" r="7.8"/><circle cx="2038.53" cy="1684.71" r="7.8"/><circle cx="2237.21" cy="1686.95" r="7.8"/><circle cx="2104.38" cy="1688.06" r="7.8"/><circle cx="2187.43" cy="1689.18" r="7.8"/><circle cx="2203.5" cy="1684.71" r="7.8"/><circle cx="2054.6" cy="1696.99" r="7.8"/><circle cx="2071.34" cy="1699.67" r="7.8"/><circle cx="2120.9" cy="1696.55" r="7.8"/><circle cx="2137.64" cy="1693.64" r="7.8"/><circle cx="2153.94" cy="1695.88" r="7.8"/><circle cx="2170.68" cy="1696.99" r="7.8"/><circle cx="2203.5" cy="1696.99" r="7.8"/><circle cx="2220.24" cy="1699.67" r="7.8"/><circle cx="2104.38" cy="1706.37" r="7.8"/><circle cx="2137.64" cy="1711.5" r="7.8"/><circle cx="2153.94" cy="1711.95" r="7.8"/><circle cx="2170.68" cy="1713.74" r="7.8"/><circle cx="2187.43" cy="1708.6" r="7.8"/><circle cx="2071.34" cy="1719.76" r="7.8"/><circle cx="2088.09" cy="1723.78" r="7.8"/><circle cx="2104.38" cy="1723.78" r="7.8"/><circle cx="2120.9" cy="1718.65" r="7.8"/><circle cx="2187.43" cy="1724.9" r="7.8"/><circle cx="2203.5" cy="1722.66" r="7.8"/><circle cx="2170.68" cy="1730.48" r="7.8"/><circle cx="2120.9" cy="1737.17" r="7.8"/><circle cx="2137.64" cy="1732.71" r="7.8"/><circle cx="2088.09" cy="1746.1" r="7.8"/><circle cx="2153.94" cy="1746.55" r="7.8"/><circle cx="2187.43" cy="1746.1" r="7.8"/><circle cx="2104.38" cy="1760.61" r="7.8"/><circle cx="2120.9" cy="1757.71" r="7.8"/><circle cx="2137.64" cy="1755.48" r="7.8"/><circle cx="2170.68" cy="1767.31" r="7.8"/><circle cx="2137.64" cy="1779.59" r="7.8"/><circle cx="2104.38" cy="1800.8" r="7.8"/><circle cx="2120.9" cy="1795.66" r="7.8"/><circle cx="2137.64" cy="1809.73" r="7.8"/><circle cx="2153.94" cy="1809.06" r="7.8"/><circle cx="2128.72" cy="1852.59" r="7.8"/><circle cx="2145.46" cy="1861.52" r="7.8"/><circle cx="2137.64" cy="1899.02" r="7.8"/></g><line x1="2138.5" y1="1665.2" x2="2138.5" y2="1686" stroke="#000" stroke-width="8"/><line x1="2084" y1="1665.2" x2="2193" y2="1665.2" stroke="#000" stroke-width="8"/><line x1="2084" y1="1686" x2="2193" y2="1686" stroke="#000" stroke-width="8"/><line x1="228.3" y1="2556" x2="228.3" y2="3465.7" stroke="#000" stroke-width="9"/><line x1="190.3" y1="2560.5" x2="228.3" y2="2560.5" stroke="#000" stroke-width="9"/><text transform="translate(179.5 2583.88) scale(1 1.04)" font-size="69.5" text-anchor="end">8</text><line x1="190.3" y1="2785.78" x2="228.3" y2="2785.78" stroke="#000" stroke-width="9"/><text transform="translate(179.5 2809.16) scale(1 1.04)" font-size="69.5" text-anchor="end">6</text><line x1="190.3" y1="3011.05" x2="228.3" y2="3011.05" stroke="#000" stroke-width="9"/><text transform="translate(179.5 3034.43) scale(1 1.04)" font-size="69.5" text-anchor="end">4</text><line x1="190.3" y1="3236.32" x2="228.3" y2="3236.32" stroke="#000" stroke-width="9"/><text transform="translate(179.5 3259.71) scale(1 1.04)" font-size="69.5" text-anchor="end">2</text><text transform="translate(179.5 3484.98) scale(1 1.04)" font-size="69.5" text-anchor="end">0</text><line x1="190.5" y1="3461.6" x2="1134" y2="3461.6" stroke="#000" stroke-width="8.2"/><line x1="228.4" y1="3461.6" x2="228.4" y2="3499" stroke="#000" stroke-width="8.5"/><line x1="328.3" y1="3461.6" x2="328.3" y2="3482.6" stroke="#000" stroke-width="8.5"/><line x1="428.2" y1="3461.6" x2="428.2" y2="3499" stroke="#000" stroke-width="8.5"/><line x1="528.1" y1="3461.6" x2="528.1" y2="3482.6" stroke="#000" stroke-width="8.5"/><line x1="628" y1="3461.6" x2="628" y2="3499" stroke="#000" stroke-width="8.5"/><line x1="727.9" y1="3461.6" x2="727.9" y2="3482.6" stroke="#000" stroke-width="8.5"/><line x1="827.8" y1="3461.6" x2="827.8" y2="3499" stroke="#000" stroke-width="8.5"/><line x1="927.7" y1="3461.6" x2="927.7" y2="3482.6" stroke="#000" stroke-width="8.5"/><line x1="1027.6" y1="3461.6" x2="1027.6" y2="3499" stroke="#000" stroke-width="8.5"/><line x1="1127.5" y1="3461.6" x2="1127.5" y2="3482.6" stroke="#000" stroke-width="8.5"/><text transform="translate(228.4 3572.6) scale(1 1.04)" font-size="69.5" text-anchor="middle">-2</text><text transform="translate(428.2 3572.6) scale(1 1.04)" font-size="69.5" text-anchor="middle">-1</text><text transform="translate(628 3572.6) scale(1 1.04)" font-size="69.5" text-anchor="middle">0</text><text transform="translate(827.8 3572.6) scale(1 1.04)" font-size="69.5" text-anchor="middle">1</text><text transform="translate(1027.6 3572.6) scale(1 1.04)" font-size="69.5" text-anchor="middle">2</text><text transform="translate(678 3678) scale(1 1.04)" font-size="75.4" text-anchor="middle">Whitfield Proliferation</text><text transform="translate(678 3760) scale(1 1.04)" font-size="75.4" text-anchor="middle">Signature Score</text><text transform="translate(99.5 3012.6) rotate(-90) scale(1 1.04)" font-size="75.4" text-anchor="middle">Log2 <tspan font-style="italic">BRCA2</tspan></text><text transform="translate(268.7 2653) scale(1 1.04)" font-size="74.5" text-anchor="start">R = 0.894</text><text transform="translate(266 2736.5) scale(1 1.04)" font-size="74.5" text-anchor="start"><tspan font-style="italic">p</tspan> &lt; 0.0001</text><g fill="#000"><circle cx="625.72" cy="3082.59" r="9.3"/><circle cx="403.25" cy="3246.7" r="9.3"/><circle cx="578.71" cy="3115.61" r="9.3"/><circle cx="340.99" cy="3268.56" r="9.3"/><circle cx="577.15" cy="3165.19" r="9.3"/><circle cx="422.9" cy="3270.51" r="9.3"/><circle cx="383.95" cy="3214.39" r="9.3"/><circle cx="448.37" cy="3221.15" r="9.3"/><circle cx="371.44" cy="3246.01" r="9.3"/><circle cx="810.12" cy="2985.06" r="9.3"/><circle cx="701.34" cy="3052.61" r="9.3"/><circle cx="336.64" cy="3267.15" r="9.3"/><circle cx="674.19" cy="3118.23" r="9.3"/><circle cx="655.65" cy="3128.91" r="9.3"/><circle cx="896.35" cy="2981.25" r="9.3"/><circle cx="662.46" cy="3064.37" r="9.3"/><circle cx="466.77" cy="3195.72" r="9.3"/><circle cx="553.09" cy="3162.16" r="9.3"/><circle cx="512.23" cy="3143.74" r="9.3"/><circle cx="795.36" cy="3101.9" r="9.3"/><circle cx="485.82" cy="3210.2" r="9.3"/><circle cx="456.99" cy="3258.44" r="9.3"/><circle cx="807.35" cy="3082.2" r="9.3"/><circle cx="426.41" cy="3223.99" r="9.3"/><circle cx="908.77" cy="2979.39" r="9.3"/><circle cx="468.58" cy="3182.58" r="9.3"/><circle cx="392.87" cy="3241.43" r="9.3"/><circle cx="435.75" cy="3214.48" r="9.3"/><circle cx="362.93" cy="3297.99" r="9.3"/><circle cx="391.12" cy="3219" r="9.3"/><circle cx="667.96" cy="3147.33" r="9.3"/><circle cx="753.89" cy="3020.94" r="9.3"/><circle cx="708.19" cy="3141.95" r="9.3"/><circle cx="352.95" cy="3266.04" r="9.3"/><circle cx="615.96" cy="3153.31" r="9.3"/><circle cx="386.89" cy="3259.44" r="9.3"/><circle cx="377.3" cy="3277.69" r="9.3"/><circle cx="663.09" cy="3110.15" r="9.3"/><circle cx="921.35" cy="2944.17" r="9.3"/><circle cx="863.57" cy="3045.9" r="9.3"/><circle cx="527.98" cy="3168.01" r="9.3"/><circle cx="794.07" cy="3031.49" r="9.3"/><circle cx="596.22" cy="3114.02" r="9.3"/><circle cx="328.33" cy="3274.74" r="9.3"/><circle cx="588.15" cy="3077.53" r="9.3"/><circle cx="792.53" cy="3021.07" r="9.3"/><circle cx="607.04" cy="3146.33" r="9.3"/><circle cx="797.15" cy="2994.67" r="9.3"/><circle cx="554.19" cy="3150.02" r="9.3"/><circle cx="577.14" cy="3156.03" r="9.3"/><circle cx="331.53" cy="3236.98" r="9.3"/><circle cx="725.78" cy="3076.01" r="9.3"/><circle cx="654.61" cy="3102.27" r="9.3"/><circle cx="844.43" cy="3052.33" r="9.3"/><circle cx="525.73" cy="3164.22" r="9.3"/><circle cx="638.68" cy="3130.82" r="9.3"/><circle cx="582.68" cy="3088.06" r="9.3"/><circle cx="850.52" cy="3059.2" r="9.3"/><circle cx="764.4" cy="3077.97" r="9.3"/><circle cx="546.14" cy="3160.78" r="9.3"/><circle cx="367.38" cy="3262.32" r="9.3"/><circle cx="825.98" cy="2986.92" r="9.3"/><circle cx="536.83" cy="3168.62" r="9.3"/><circle cx="610.41" cy="3186.14" r="9.3"/><circle cx="653.25" cy="3162.45" r="9.3"/><circle cx="782.07" cy="2997.27" r="9.3"/><circle cx="824.54" cy="3008.54" r="9.3"/><circle cx="427.7" cy="3211.45" r="9.3"/><circle cx="685.1" cy="3063.54" r="9.3"/><circle cx="355.5" cy="3310.98" r="9.3"/><circle cx="874.66" cy="2985.32" r="9.3"/><circle cx="454.85" cy="3203.35" r="9.3"/><circle cx="854.13" cy="2951.52" r="9.3"/><circle cx="729.05" cy="3098.66" r="9.3"/><circle cx="567.28" cy="3151.56" r="9.3"/><circle cx="713.13" cy="3114.66" r="9.3"/><circle cx="627.1" cy="3094.7" r="9.3"/><circle cx="781.88" cy="3016.37" r="9.3"/><circle cx="564.38" cy="3114.94" r="9.3"/><circle cx="521.07" cy="3172.31" r="9.3"/><circle cx="716.85" cy="3045.39" r="9.3"/><circle cx="626.92" cy="3145.51" r="9.3"/><circle cx="674.33" cy="3099.86" r="9.3"/><circle cx="643.56" cy="3110.98" r="9.3"/><circle cx="701.23" cy="3083.7" r="9.3"/><circle cx="431.39" cy="3220.71" r="9.3"/><circle cx="513.68" cy="3153.23" r="9.3"/><circle cx="566.16" cy="3170.85" r="9.3"/><circle cx="558.68" cy="3134.78" r="9.3"/><circle cx="670.45" cy="3103.67" r="9.3"/><circle cx="837.92" cy="3034.01" r="9.3"/><circle cx="676.95" cy="3099.53" r="9.3"/><circle cx="678.3" cy="3084.19" r="9.3"/><circle cx="673.68" cy="3119.82" r="9.3"/><circle cx="822.88" cy="3031.44" r="9.3"/><circle cx="701.46" cy="3109.26" r="9.3"/><circle cx="345.31" cy="3280.07" r="9.3"/><circle cx="569.1" cy="3111.81" r="9.3"/><circle cx="817.96" cy="3007.44" r="9.3"/><circle cx="741.35" cy="3074.96" r="9.3"/><circle cx="732.21" cy="3044.19" r="9.3"/><circle cx="757.03" cy="3089.47" r="9.3"/><circle cx="820.22" cy="3012.32" r="9.3"/><circle cx="516.86" cy="3207.79" r="9.3"/><circle cx="550.95" cy="3184.68" r="9.3"/><circle cx="405.79" cy="3207.43" r="9.3"/><circle cx="629.33" cy="3119.32" r="9.3"/><circle cx="740.26" cy="3065.84" r="9.3"/><circle cx="365.44" cy="3223.41" r="9.3"/><circle cx="592.26" cy="3118.24" r="9.3"/><circle cx="825.68" cy="3008.33" r="9.3"/><circle cx="456.86" cy="3230.59" r="9.3"/><circle cx="547.46" cy="3178.52" r="9.3"/><circle cx="424.55" cy="3238.14" r="9.3"/><circle cx="781.17" cy="3086.43" r="9.3"/><circle cx="448.05" cy="3250.14" r="9.3"/><circle cx="448.97" cy="3238.42" r="9.3"/><circle cx="578.9" cy="3126.28" r="9.3"/><circle cx="401.99" cy="3250.09" r="9.3"/><circle cx="594.72" cy="3128.41" r="9.3"/><circle cx="356.52" cy="3273.32" r="9.3"/><circle cx="827.78" cy="3029.49" r="9.3"/><circle cx="649.23" cy="3116.51" r="9.3"/><circle cx="570.62" cy="3101.74" r="9.3"/><circle cx="570.58" cy="3140.24" r="9.3"/><circle cx="847.86" cy="2956.1" r="9.3"/><circle cx="649.56" cy="3180.73" r="9.3"/><circle cx="562.83" cy="3206.08" r="9.3"/><circle cx="763" cy="3090.38" r="9.3"/><circle cx="887.68" cy="3011.65" r="9.3"/><circle cx="496.68" cy="3179.04" r="9.3"/><circle cx="431.92" cy="3222.46" r="9.3"/><circle cx="575.48" cy="3139.55" r="9.3"/><circle cx="845.59" cy="3048.64" r="9.3"/><circle cx="561.33" cy="3132.41" r="9.3"/><circle cx="605.73" cy="3103.99" r="9.3"/><circle cx="766.31" cy="3074.17" r="9.3"/><circle cx="555.78" cy="3160.42" r="9.3"/><circle cx="464.79" cy="3204.57" r="9.3"/><circle cx="550.11" cy="3164.61" r="9.3"/><circle cx="626.29" cy="3105.19" r="9.3"/><circle cx="331.45" cy="3284.65" r="9.3"/><circle cx="612.91" cy="3188.98" r="9.3"/><circle cx="744.79" cy="3078.17" r="9.3"/><circle cx="397.52" cy="3274.51" r="9.3"/><circle cx="906.64" cy="2959" r="9.3"/><circle cx="681.8" cy="3137.55" r="9.3"/><circle cx="827.12" cy="2985.59" r="9.3"/><circle cx="631.55" cy="3177.91" r="9.3"/><circle cx="629.26" cy="3161.41" r="9.3"/><circle cx="748.73" cy="3084.81" r="9.3"/><circle cx="346.91" cy="3277.85" r="9.3"/><circle cx="795.3" cy="3083.26" r="9.3"/><circle cx="729.49" cy="3088.11" r="9.3"/><circle cx="439.87" cy="3246.83" r="9.3"/><circle cx="673.89" cy="3100.46" r="9.3"/><circle cx="881.38" cy="2967.1" r="9.3"/><circle cx="614.12" cy="3118.53" r="9.3"/><circle cx="802.46" cy="2975.4" r="9.3"/><circle cx="693.36" cy="3088.08" r="9.3"/><circle cx="502.87" cy="3232.34" r="9.3"/><circle cx="748.84" cy="3071.65" r="9.3"/><circle cx="363.82" cy="3263.01" r="9.3"/><circle cx="490.04" cy="3186.6" r="9.3"/><circle cx="560.28" cy="3181.92" r="9.3"/><circle cx="665.03" cy="3115.31" r="9.3"/><circle cx="651.27" cy="3129.19" r="9.3"/><circle cx="775.87" cy="3014.92" r="9.3"/><circle cx="392.49" cy="3222.02" r="9.3"/><circle cx="368.19" cy="3261.71" r="9.3"/><circle cx="819.61" cy="3011.6" r="9.3"/><circle cx="401.6" cy="3213.56" r="9.3"/><circle cx="862.45" cy="2951.35" r="9.3"/><circle cx="652.48" cy="3147.51" r="9.3"/><circle cx="631.89" cy="3146.58" r="9.3"/><circle cx="328.8" cy="3305.18" r="9.3"/><circle cx="562.63" cy="3139.55" r="9.3"/><circle cx="614.82" cy="3129.48" r="9.3"/><circle cx="764.08" cy="3042.66" r="9.3"/><circle cx="735.33" cy="3085.29" r="9.3"/><circle cx="390.6" cy="3263.79" r="9.3"/><circle cx="822.42" cy="3050.63" r="9.3"/><circle cx="517.89" cy="3182.83" r="9.3"/><circle cx="445.04" cy="3212.26" r="9.3"/><circle cx="613.71" cy="3141.64" r="9.3"/><circle cx="506.33" cy="3188.72" r="9.3"/><circle cx="717.79" cy="3096.97" r="9.3"/><circle cx="653.58" cy="3168.71" r="9.3"/><circle cx="652.53" cy="3128.32" r="9.3"/><circle cx="430.73" cy="3263.26" r="9.3"/><circle cx="806.42" cy="3032.72" r="9.3"/><circle cx="791.3" cy="3009.68" r="9.3"/><circle cx="622.88" cy="3143.67" r="9.3"/><circle cx="886.74" cy="2991.39" r="9.3"/><circle cx="674.59" cy="3133.04" r="9.3"/><circle cx="350.91" cy="3276.91" r="9.3"/><circle cx="635.89" cy="3143.1" r="9.3"/><circle cx="781.42" cy="3110.55" r="9.3"/><circle cx="591.48" cy="3125.96" r="9.3"/><circle cx="376.13" cy="3241.74" r="9.3"/><circle cx="590.07" cy="3206.93" r="9.3"/><circle cx="700.66" cy="3117.39" r="9.3"/><circle cx="601.11" cy="3160.03" r="9.3"/><circle cx="367.11" cy="3246.16" r="9.3"/><circle cx="831.03" cy="2986.92" r="9.3"/><circle cx="802.35" cy="3051.36" r="9.3"/><circle cx="558.85" cy="3128.25" r="9.3"/><circle cx="706.93" cy="3102.3" r="9.3"/><circle cx="787.12" cy="3039" r="9.3"/><circle cx="836.02" cy="3039.5" r="9.3"/><circle cx="637.73" cy="3118.54" r="9.3"/><circle cx="836.15" cy="3077.6" r="9.3"/><circle cx="768.21" cy="3032.86" r="9.3"/><circle cx="401.36" cy="3264.73" r="9.3"/><circle cx="603.18" cy="3171.85" r="9.3"/><circle cx="449.41" cy="3223.77" r="9.3"/><circle cx="761" cy="3045.11" r="9.3"/><circle cx="937.45" cy="2967.7" r="9.3"/><circle cx="597.53" cy="3174.15" r="9.3"/><circle cx="338.14" cy="3302.01" r="9.3"/><circle cx="489.36" cy="3209.52" r="9.3"/><circle cx="548.74" cy="3167.88" r="9.3"/><circle cx="362.25" cy="3249.1" r="9.3"/><circle cx="832.1" cy="3043.99" r="9.3"/><circle cx="762.24" cy="3046.23" r="9.3"/><circle cx="519.95" cy="3207.02" r="9.3"/><circle cx="467.76" cy="3257.52" r="9.3"/><circle cx="629.01" cy="3116.2" r="9.3"/><circle cx="536.24" cy="3189.87" r="9.3"/><circle cx="761.72" cy="3096.22" r="9.3"/><circle cx="625.91" cy="3130.62" r="9.3"/><circle cx="774.32" cy="3021.65" r="9.3"/><circle cx="579.88" cy="3127.39" r="9.3"/><circle cx="459.21" cy="3263.91" r="9.3"/><circle cx="383.33" cy="3237.92" r="9.3"/><circle cx="383.31" cy="3214.5" r="9.3"/><circle cx="555.2" cy="3133.1" r="9.3"/><circle cx="931.41" cy="2912.41" r="9.3"/><circle cx="581.58" cy="3168.77" r="9.3"/><circle cx="328.7" cy="3266.21" r="9.3"/><circle cx="439.38" cy="3175.9" r="9.3"/><circle cx="463.16" cy="3203.93" r="9.3"/><circle cx="836.63" cy="2997.54" r="9.3"/><circle cx="394.52" cy="3267.66" r="9.3"/><circle cx="603.86" cy="3147.26" r="9.3"/><circle cx="573.88" cy="3156.9" r="9.3"/><circle cx="609.71" cy="3188.23" r="9.3"/><circle cx="333.17" cy="3231.48" r="9.3"/><circle cx="626.91" cy="3125.57" r="9.3"/><circle cx="387.13" cy="3257.89" r="9.3"/><circle cx="543.56" cy="3193.84" r="9.3"/><circle cx="692.2" cy="3088.59" r="9.3"/><circle cx="646.71" cy="3178.27" r="9.3"/><circle cx="797.41" cy="3055.6" r="9.3"/><circle cx="565.59" cy="3139.51" r="9.3"/><circle cx="650.23" cy="3104.99" r="9.3"/><circle cx="449.93" cy="3226.68" r="9.3"/><circle cx="833.06" cy="2995.16" r="9.3"/><circle cx="791.84" cy="3037.57" r="9.3"/><circle cx="405.59" cy="3232.06" r="9.3"/><circle cx="722.51" cy="3083.39" r="9.3"/><circle cx="764.89" cy="3036.88" r="9.3"/><circle cx="398.02" cy="3250.4" r="9.3"/><circle cx="473.85" cy="3235.4" r="9.3"/><circle cx="820.59" cy="3023.6" r="9.3"/><circle cx="620.76" cy="3078.13" r="9.3"/><circle cx="663.78" cy="3136.72" r="9.3"/><circle cx="737.93" cy="3057.52" r="9.3"/><circle cx="615.29" cy="3088.66" r="9.3"/><circle cx="694.33" cy="3105.62" r="9.3"/><circle cx="835.51" cy="3041.02" r="9.3"/><circle cx="765.33" cy="3114.8" r="9.3"/><circle cx="858.55" cy="3070.13" r="9.3"/><circle cx="369.37" cy="3248.59" r="9.3"/><circle cx="801.38" cy="3104.84" r="9.3"/><circle cx="466.01" cy="3190.36" r="9.3"/><circle cx="493.02" cy="3183.18" r="9.3"/><circle cx="782.56" cy="3008.79" r="9.3"/><circle cx="356.83" cy="3266.8" r="9.3"/><circle cx="870.51" cy="2994.97" r="9.3"/><circle cx="569.65" cy="3163.22" r="9.3"/><circle cx="512.03" cy="3170" r="9.3"/><circle cx="694.36" cy="3073.53" r="9.3"/><circle cx="572.38" cy="3196.67" r="9.3"/><circle cx="351.19" cy="3278.78" r="9.3"/><circle cx="715.58" cy="3061.97" r="9.3"/><circle cx="624.27" cy="3134.63" r="9.3"/><circle cx="506.34" cy="3164.91" r="9.3"/><circle cx="840.05" cy="3013.24" r="9.3"/><circle cx="550.65" cy="3184.84" r="9.3"/><circle cx="454.4" cy="3254.66" r="9.3"/><circle cx="626.33" cy="3094.96" r="9.3"/><circle cx="330.37" cy="3296.54" r="9.3"/><circle cx="446.89" cy="3258.99" r="9.3"/><circle cx="415.32" cy="3253.57" r="9.3"/><circle cx="367.92" cy="3240.68" r="9.3"/><circle cx="592.3" cy="3149.69" r="9.3"/><circle cx="691.96" cy="3028.5" r="9.3"/><circle cx="742.86" cy="3062.17" r="9.3"/><circle cx="642.55" cy="3065.51" r="9.3"/><circle cx="788.12" cy="3058.75" r="9.3"/><circle cx="781.35" cy="3007.15" r="9.3"/><circle cx="790.9" cy="3058.42" r="9.3"/><circle cx="480.06" cy="3182.73" r="9.3"/><circle cx="601.16" cy="3119.75" r="9.3"/><circle cx="785.43" cy="3047.43" r="9.3"/><circle cx="559.11" cy="3168.54" r="9.3"/><circle cx="843.73" cy="2977.71" r="9.3"/><circle cx="510.37" cy="3202.56" r="9.3"/><circle cx="484.98" cy="3212.45" r="9.3"/><circle cx="690.82" cy="3078.05" r="9.3"/><circle cx="414.86" cy="3251.9" r="9.3"/><circle cx="771.53" cy="3040.97" r="9.3"/><circle cx="471.14" cy="3217.86" r="9.3"/><circle cx="388.52" cy="3247.45" r="9.3"/><circle cx="390.11" cy="3254.9" r="9.3"/><circle cx="766.46" cy="3000.13" r="9.3"/><circle cx="828.86" cy="3030.39" r="9.3"/><circle cx="556.15" cy="3216.45" r="9.3"/><circle cx="448.17" cy="3177.27" r="9.3"/><circle cx="752.19" cy="3124.37" r="9.3"/><circle cx="650.46" cy="3116.72" r="9.3"/><circle cx="807.27" cy="3040.6" r="9.3"/><circle cx="793.19" cy="3042.68" r="9.3"/><circle cx="559.89" cy="3177.87" r="9.3"/><circle cx="746.03" cy="2996.34" r="9.3"/><circle cx="398.54" cy="3230.5" r="9.3"/><circle cx="531.73" cy="3200.03" r="9.3"/><circle cx="353.77" cy="3268.21" r="9.3"/><circle cx="459.27" cy="3234.53" r="9.3"/><circle cx="438.07" cy="3267.82" r="9.3"/><circle cx="402.53" cy="3255.84" r="9.3"/><circle cx="713.68" cy="3123.42" r="9.3"/><circle cx="913.89" cy="3024.53" r="9.3"/><circle cx="646.16" cy="3066.94" r="9.3"/><circle cx="551.81" cy="3160.57" r="9.3"/><circle cx="472.07" cy="3205.76" r="9.3"/><circle cx="743.99" cy="3064.06" r="9.3"/><circle cx="876.25" cy="3039.19" r="9.3"/><circle cx="497.46" cy="3185" r="9.3"/><circle cx="414.46" cy="3235.58" r="9.3"/><circle cx="388.73" cy="3252.94" r="9.3"/><circle cx="360.08" cy="3266.89" r="9.3"/><circle cx="377.95" cy="3258.71" r="9.3"/><circle cx="378.25" cy="3249.83" r="9.3"/><circle cx="662.48" cy="3091.3" r="9.3"/><circle cx="665.24" cy="3048.08" r="9.3"/><circle cx="698.67" cy="3077.07" r="9.3"/><circle cx="795.34" cy="2992.51" r="9.3"/><circle cx="457.13" cy="3213.6" r="9.3"/><circle cx="779.36" cy="3075.27" r="9.3"/><circle cx="829.68" cy="3017.22" r="9.3"/><circle cx="402.64" cy="3193.13" r="9.3"/><circle cx="560.22" cy="3148.35" r="9.3"/><circle cx="863.64" cy="2996.61" r="9.3"/><circle cx="799.59" cy="3014.98" r="9.3"/><circle cx="659.2" cy="3109.58" r="9.3"/><circle cx="797.65" cy="3007.14" r="9.3"/><circle cx="718.04" cy="3053.79" r="9.3"/><circle cx="766.01" cy="3055.3" r="9.3"/><circle cx="765.29" cy="3092.02" r="9.3"/><circle cx="715.92" cy="3070" r="9.3"/><circle cx="360.79" cy="3244.02" r="9.3"/><circle cx="784.44" cy="3065.21" r="9.3"/><circle cx="629.81" cy="3127.33" r="9.3"/><circle cx="659.09" cy="3096.89" r="9.3"/><circle cx="463.62" cy="3250.4" r="9.3"/><circle cx="396.87" cy="3241.99" r="9.3"/><circle cx="548.49" cy="3160.96" r="9.3"/><circle cx="892.7" cy="2985.69" r="9.3"/><circle cx="700.33" cy="3098.39" r="9.3"/><circle cx="817.3" cy="3062.18" r="9.3"/><circle cx="682.47" cy="3054.9" r="9.3"/><circle cx="756.62" cy="3079.25" r="9.3"/><circle cx="408.77" cy="3243.28" r="9.3"/><circle cx="455.51" cy="3206.07" r="9.3"/><circle cx="455.68" cy="3180.95" r="9.3"/><circle cx="332.06" cy="3238.25" r="9.3"/><circle cx="672.24" cy="3095.02" r="9.3"/><circle cx="425.17" cy="3225.8" r="9.3"/><circle cx="727.31" cy="3127.28" r="9.3"/><circle cx="410.88" cy="3264.69" r="9.3"/><circle cx="873.84" cy="2984.47" r="9.3"/><circle cx="750.16" cy="2985.24" r="9.3"/><circle cx="357.07" cy="3293.47" r="9.3"/><circle cx="333.11" cy="3254.56" r="9.3"/><circle cx="654.4" cy="3086.71" r="9.3"/><circle cx="457.46" cy="3204.09" r="9.3"/><circle cx="788.09" cy="3030.93" r="9.3"/><circle cx="625.36" cy="3097.68" r="9.3"/><circle cx="902.58" cy="2745.3" r="9.3"/><circle cx="961.44" cy="2804.83" r="9.3"/><circle cx="1016.67" cy="2835.58" r="9.3"/><circle cx="1040.81" cy="2852.78" r="9.3"/><circle cx="854.63" cy="2856.42" r="9.3"/><circle cx="892.99" cy="2852.78" r="9.3"/><circle cx="929.03" cy="2884.52" r="9.3"/><circle cx="793.45" cy="2886.84" r="9.3"/><circle cx="767" cy="2902.38" r="9.3"/><circle cx="758.73" cy="2923.21" r="9.3"/><circle cx="944.91" cy="2922.55" r="9.3"/><circle cx="971.03" cy="2941.4" r="9.3"/><circle cx="962.76" cy="2956.28" r="9.3"/><circle cx="920.77" cy="2940.41" r="9.3"/><circle cx="836.44" cy="2924.87" r="9.3"/><circle cx="848.02" cy="2926.52" r="9.3"/><circle cx="854.63" cy="2941.4" r="9.3"/><circle cx="854.63" cy="2954.63" r="9.3"/><circle cx="843.06" cy="2976.12" r="9.3"/><circle cx="895.97" cy="2931.48" r="9.3"/><circle cx="884.39" cy="2943.06" r="9.3"/><circle cx="876.12" cy="2952.98" r="9.3"/><circle cx="733.93" cy="2951.98" r="9.3"/><circle cx="748.81" cy="2953.97" r="9.3"/><circle cx="793.45" cy="2951.98" r="9.3"/><circle cx="715.74" cy="2978.77" r="9.3"/><circle cx="740.54" cy="2975.13" r="9.3"/><circle cx="631.42" cy="2992" r="9.3"/><circle cx="662.17" cy="2999.27" r="9.3"/><circle cx="656.88" cy="3018.12" r="9.3"/><circle cx="700.86" cy="3007.54" r="9.3"/><circle cx="937.3" cy="3005.89" r="9.3"/><circle cx="949.54" cy="3026.72" r="9.3"/><circle cx="968.72" cy="3048.88" r="9.3"/><circle cx="922.42" cy="3012.5" r="9.3"/><circle cx="892.66" cy="3029.03" r="9.3"/><circle cx="846.36" cy="3061.11" r="9.3"/><circle cx="865.21" cy="3073.68" r="9.3"/><circle cx="824.87" cy="3091.87" r="9.3"/><circle cx="808.99" cy="3106.75" r="9.3"/><circle cx="843.06" cy="3106.08" r="9.3"/><circle cx="829.17" cy="3124.93" r="9.3"/><circle cx="806.68" cy="3131.55" r="9.3"/><circle cx="813.29" cy="3139.81" r="9.3"/><circle cx="784.52" cy="3137.17" r="9.3"/><circle cx="758.07" cy="3144.78" r="9.3"/><circle cx="733.93" cy="3146.43" r="9.3"/><circle cx="690.94" cy="3167.26" r="9.3"/><circle cx="703.51" cy="3190.41" r="9.3"/><circle cx="264.06" cy="3320.63" r="9.3"/><circle cx="276.96" cy="3343.12" r="9.3"/><circle cx="306.06" cy="3317.33" r="9.3"/><circle cx="328.54" cy="3319.97" r="9.3"/><circle cx="335.16" cy="3344.78" r="9.3"/><circle cx="428.41" cy="3358" r="9.3"/><circle cx="639.06" cy="3301.79" r="9.3"/><circle cx="583.17" cy="3247.88" r="9.3"/><circle cx="583.17" cy="3261.11" r="9.3"/><circle cx="652.62" cy="3226.72" r="9.3"/><circle cx="612.94" cy="3212.5" r="9.3"/><circle cx="680.4" cy="3201.59" r="9.3"/><circle cx="703.54" cy="3192.66" r="9.3"/><circle cx="691.31" cy="3167.2" r="9.3"/><circle cx="576.56" cy="3221.43" r="9.3"/><circle cx="517.7" cy="3258.8" r="9.3"/><circle cx="482.98" cy="3283.6" r="9.3"/><circle cx="434.37" cy="3281.94" r="9.3"/><circle cx="279.6" cy="3273.02" r="9.3"/><circle cx="292.83" cy="3263.1" r="9.3"/><circle cx="319.95" cy="3259.79" r="9.3"/><circle cx="340.12" cy="3238.96" r="9.3"/><circle cx="348.39" cy="3212.5" r="9.3"/><circle cx="380.46" cy="3216.8" r="9.3"/><circle cx="410.22" cy="3203.57" r="9.3"/><circle cx="435.03" cy="3187.04" r="9.3"/><circle cx="458.17" cy="3161.24" r="9.3"/><circle cx="474.71" cy="3144.05" r="9.3"/><circle cx="491.24" cy="3134.13" r="9.3"/><circle cx="535.89" cy="3118.25" r="9.3"/><circle cx="544.15" cy="3095.11" r="9.3"/><circle cx="574.91" cy="3080.89" r="9.3"/><circle cx="608.64" cy="3068.65" r="9.3"/><circle cx="631.12" cy="2991.6" r="9.3"/><circle cx="662.54" cy="2999.21" r="9.3"/><circle cx="656.59" cy="3018.39" r="9.3"/><circle cx="701.23" cy="3007.47" r="9.3"/><circle cx="716.77" cy="2979.37" r="9.3"/><circle cx="640.05" cy="3043.85" r="9.3"/></g><line x1="1611.7" y1="2664.5" x2="1611.7" y2="3495.05" stroke="#000" stroke-width="8"/><line x1="1585.7" y1="2668.5" x2="1611.7" y2="2668.5" stroke="#000" stroke-width="8"/><text transform="translate(1578 2690.16) scale(1 1.04)" font-size="60.5" text-anchor="end">100</text><line x1="1585.7" y1="2832.96" x2="1611.7" y2="2832.96" stroke="#000" stroke-width="8"/><text transform="translate(1578 2854.62) scale(1 1.04)" font-size="60.5" text-anchor="end">80</text><line x1="1585.7" y1="2997.42" x2="1611.7" y2="2997.42" stroke="#000" stroke-width="8"/><text transform="translate(1578 3019.08) scale(1 1.04)" font-size="60.5" text-anchor="end">60</text><line x1="1585.7" y1="3161.88" x2="1611.7" y2="3161.88" stroke="#000" stroke-width="8"/><text transform="translate(1578 3183.54) scale(1 1.04)" font-size="60.5" text-anchor="end">40</text><line x1="1585.7" y1="3326.34" x2="1611.7" y2="3326.34" stroke="#000" stroke-width="8"/><text transform="translate(1578 3348) scale(1 1.04)" font-size="60.5" text-anchor="end">20</text><text transform="translate(1578 3512.46) scale(1 1.04)" font-size="60.5" text-anchor="end">0</text><line x1="1585.7" y1="3490.8" x2="2437" y2="3490.8" stroke="#000" stroke-width="8.5"/><line x1="1611.7" y1="3490.8" x2="1611.7" y2="3515.8" stroke="#000" stroke-width="7.5"/><text transform="translate(1611.7 3579) scale(1 1.04)" font-size="60.5" text-anchor="middle">0</text><line x1="1743.2" y1="3490.8" x2="1743.2" y2="3515.8" stroke="#000" stroke-width="7.5"/><text transform="translate(1743.2 3579) scale(1 1.04)" font-size="60.5" text-anchor="middle">24</text><line x1="1874.7" y1="3490.8" x2="1874.7" y2="3515.8" stroke="#000" stroke-width="7.5"/><text transform="translate(1874.7 3579) scale(1 1.04)" font-size="60.5" text-anchor="middle">48</text><line x1="2006.2" y1="3490.8" x2="2006.2" y2="3515.8" stroke="#000" stroke-width="7.5"/><text transform="translate(2006.2 3579) scale(1 1.04)" font-size="60.5" text-anchor="middle">72</text><line x1="2137.7" y1="3490.8" x2="2137.7" y2="3515.8" stroke="#000" stroke-width="7.5"/><text transform="translate(2137.7 3579) scale(1 1.04)" font-size="60.5" text-anchor="middle">96</text><line x1="2269.2" y1="3490.8" x2="2269.2" y2="3515.8" stroke="#000" stroke-width="7.5"/><text transform="translate(2269.2 3579) scale(1 1.04)" font-size="60.5" text-anchor="middle">120</text><line x1="2400.7" y1="3490.8" x2="2400.7" y2="3515.8" stroke="#000" stroke-width="7.5"/><text transform="translate(2400.7 3579) scale(1 1.04)" font-size="60.5" text-anchor="middle">144</text><text transform="translate(2021 3648) scale(1 1.04)" font-size="68.5" text-anchor="middle">Months</text><text transform="translate(1463.4 3078) rotate(-90) scale(1 1.04)" font-size="68.5" text-anchor="middle">% Event Free Survival</text><polyline points="1612,2668.5 1648.5,2668.5 1648.5,2719.2 1714.4,2719.2 1714.4,2742.8 1729.7,2742.8 1729.7,2767.8 1779.7,2767.8 1779.7,2794.2 1837.2,2794.2 1837.2,2820.6 1878.9,2820.6 1878.9,2854.8 2437,2854.8" fill="none" stroke="#f00" stroke-width="8" stroke-linejoin="miter"/><rect x="1880" y="2838.5" width="7.7" height="14" fill="#f00"/><rect x="1947.1" y="2838.5" width="8.9" height="14" fill="#f00"/><rect x="1964.4" y="2838.5" width="7.6" height="14" fill="#f00"/><rect x="2016.2" y="2838.5" width="9.6" height="14" fill="#f00"/><rect x="2048.8" y="2838.5" width="10.7" height="14" fill="#f00"/><rect x="2085.2" y="2838.5" width="12.7" height="14" fill="#f00"/><rect x="2117.8" y="2838.5" width="7.7" height="14" fill="#f00"/><rect x="2195.3" y="2838.5" width="15.4" height="14" fill="#f00"/><rect x="2249" y="2838.5" width="9.2" height="14" fill="#f00"/><rect x="2309.6" y="2838.5" width="7.7" height="14" fill="#f00"/><rect x="2320.3" y="2838.5" width="7" height="14" fill="#f00"/><rect x="2414.3" y="2838.5" width="8.1" height="14" fill="#f00"/><rect x="1634.5" y="2652" width="8" height="18" fill="#f00"/><rect x="1825" y="2777" width="9" height="18" fill="#f00"/><rect x="1835" y="2804" width="20" height="17" fill="#f00"/><rect x="1858" y="2804" width="6" height="17" fill="#f00"/><rect x="1867" y="2804" width="6" height="17" fill="#f00"/><polygon points="1610.83,2656.67 1615,2656.67 1615,2659.44 1619.17,2659.44 1619.17,2662.22 1623.33,2662.22 1623.33,2665 1628.89,2665 1628.89,2667.78 1634.44,2667.78 1634.44,2670.56 1640,2670.56 1640,2680.28 1645.56,2680.28 1645.56,2690 1651.11,2690 1651.11,2692.08 1656.67,2692.08 1656.67,2694.17 1662.22,2694.17 1662.22,2696.94 1667.78,2696.94 1667.78,2699.72 1673.33,2699.72 1673.33,2712.92 1678.89,2712.92 1678.89,2726.11 1684.44,2726.11 1684.44,2728.89 1690,2728.89 1690,2731.67 1694.17,2731.67 1694.17,2736.53 1698.33,2736.53 1698.33,2741.39 1703.89,2741.39 1703.89,2746.25 1709.44,2746.25 1709.44,2751.11 1715,2751.11 1715,2755.28 1720.56,2755.28 1720.56,2759.44 1726.11,2759.44 1726.11,2763.61 1731.67,2763.61 1731.67,2767.78 1740,2767.78 1740,2768.24 1748.33,2768.24 1748.33,2768.7 1756.67,2768.7 1756.67,2769.17 1762.22,2769.17 1762.22,2771.25 1767.78,2771.25 1767.78,2773.33 1773.33,2773.33 1773.33,2774.26 1778.89,2774.26 1778.89,2775.19 1784.44,2775.19 1784.44,2776.11 1793.7,2776.11 1793.7,2776.11 1802.96,2776.11 1802.96,2776.11 1812.22,2776.11 1812.22,2776.11 1816.85,2776.11 1816.85,2778.43 1821.48,2778.43 1821.48,2780.74 1826.11,2780.74 1826.11,2783.06 1840,2783.06 1840,2783.06 1853.89,2783.06 1853.89,2783.06 1867.78,2783.06 1867.78,2783.06 1871.94,2783.06 1871.94,2786.53 1876.11,2786.53 1876.11,2790 1881.67,2790 1881.67,2790 1887.22,2790 1887.22,2790 1892.78,2790 1892.78,2790 1898.33,2790 1898.33,2797.78 2077.87,2797.78 2077.87,2797.78 2257.41,2797.78 2257.41,2797.78 2436.94,2797.78 2436.94,2797.78 2436.94,2816.94 2436.94,2816.94 2257.41,2816.94 2257.41,2816.94 2077.87,2816.94 2077.87,2816.94 1898.33,2816.94 1898.33,2808.06 1892.78,2808.06 1892.78,2808.06 1887.22,2808.06 1887.22,2808.06 1881.67,2808.06 1881.67,2808.06 1876.11,2808.06 1876.11,2805.28 1871.94,2805.28 1871.94,2802.5 1867.78,2802.5 1867.78,2802.5 1853.89,2802.5 1853.89,2802.5 1840,2802.5 1840,2802.5 1826.11,2802.5 1826.11,2801.57 1821.48,2801.57 1821.48,2800.65 1816.85,2800.65 1816.85,2799.72 1812.22,2799.72 1812.22,2797.87 1802.96,2797.87 1802.96,2796.02 1793.7,2796.02 1793.7,2794.17 1784.44,2794.17 1784.44,2794.17 1778.89,2794.17 1778.89,2794.17 1773.33,2794.17 1773.33,2794.17 1767.78,2794.17 1767.78,2792.08 1762.22,2792.08 1762.22,2790 1756.67,2790 1756.67,2789.07 1748.33,2789.07 1748.33,2788.15 1740,2788.15 1740,2787.22 1731.67,2787.22 1731.67,2783.06 1726.11,2783.06 1726.11,2778.89 1720.56,2778.89 1720.56,2777.5 1715,2777.5 1715,2776.11 1709.44,2776.11 1709.44,2771.94 1703.89,2771.94 1703.89,2767.78 1698.33,2767.78 1698.33,2760.83 1694.17,2760.83 1694.17,2753.89 1690,2753.89 1690,2751.11 1684.44,2751.11 1684.44,2748.33 1678.89,2748.33 1678.89,2741.39 1673.33,2741.39 1673.33,2734.44 1667.78,2734.44 1667.78,2724.72 1662.22,2724.72 1662.22,2715 1656.67,2715 1656.67,2715 1651.11,2715 1651.11,2715 1645.56,2715 1645.56,2705.28 1640,2705.28 1640,2695.56 1634.44,2695.56 1634.44,2692.08 1628.89,2692.08 1628.89,2688.61 1623.33,2688.61 1623.33,2685.37 1619.17,2685.37 1619.17,2682.13 1615,2682.13 1615,2678.89 1610.83,2678.89" fill="#000"/><rect x="2353.7" y="2796" width="7.7" height="12" fill="#fff"/><rect x="2378.7" y="2796" width="11.5" height="12" fill="#fff"/><rect x="1900.3" y="2798.5" width="1.6" height="10" fill="#666"/><rect x="1952.08" y="2798.5" width="1.6" height="10" fill="#666"/><rect x="1978.93" y="2798.5" width="1.6" height="10" fill="#666"/><rect x="2082.5" y="2798.5" width="1.6" height="10" fill="#666"/><rect x="2095.92" y="2798.5" width="1.6" height="10" fill="#666"/><rect x="2136.2" y="2798.5" width="1.6" height="10" fill="#666"/><rect x="2155.38" y="2798.5" width="1.6" height="10" fill="#666"/><rect x="2199.49" y="2798.5" width="1.6" height="10" fill="#666"/><rect x="2209.08" y="2798.5" width="1.6" height="10" fill="#666"/><rect x="2218.67" y="2798.5" width="1.6" height="10" fill="#666"/><rect x="2245.52" y="2798.5" width="1.6" height="10" fill="#666"/><rect x="2260.86" y="2798.5" width="1.6" height="10" fill="#666"/><rect x="2289.63" y="2798.5" width="1.6" height="10" fill="#666"/><rect x="2304.98" y="2798.5" width="1.6" height="10" fill="#666"/><rect x="2331.83" y="2798.5" width="1.6" height="10" fill="#666"/><rect x="2398.95" y="2798.5" width="1.6" height="10" fill="#666"/><line x1="1779.7" y1="2767.8" x2="1779.7" y2="2794.2" stroke="#f00" stroke-width="8"/><text transform="translate(2147.5 2692) scale(1 1.04)" font-size="68.5" text-anchor="start"><tspan font-style="italic">p</tspan> = 0.63</text><line x1="1662.4" y1="3352.5" x2="1749.7" y2="3352.5" stroke="#000" stroke-width="8"/><line x1="1706" y1="3336" x2="1706" y2="3352.5" stroke="#000" stroke-width="8"/><line x1="1662.4" y1="3438.3" x2="1749.7" y2="3438.3" stroke="#f00" stroke-width="8"/><line x1="1706" y1="3422" x2="1706" y2="3438.3" stroke="#f00" stroke-width="8"/><text transform="translate(1800 3376) scale(1 1.04)" font-size="68.5" text-anchor="start"><tspan font-style="italic">BRCA2</tspan> LO</text><text transform="translate(1800 3462) scale(1 1.04)" font-size="68.5" text-anchor="start"><tspan font-style="italic">BRCA2</tspan> HI</text>
</g>
</svg>
</body></html>
